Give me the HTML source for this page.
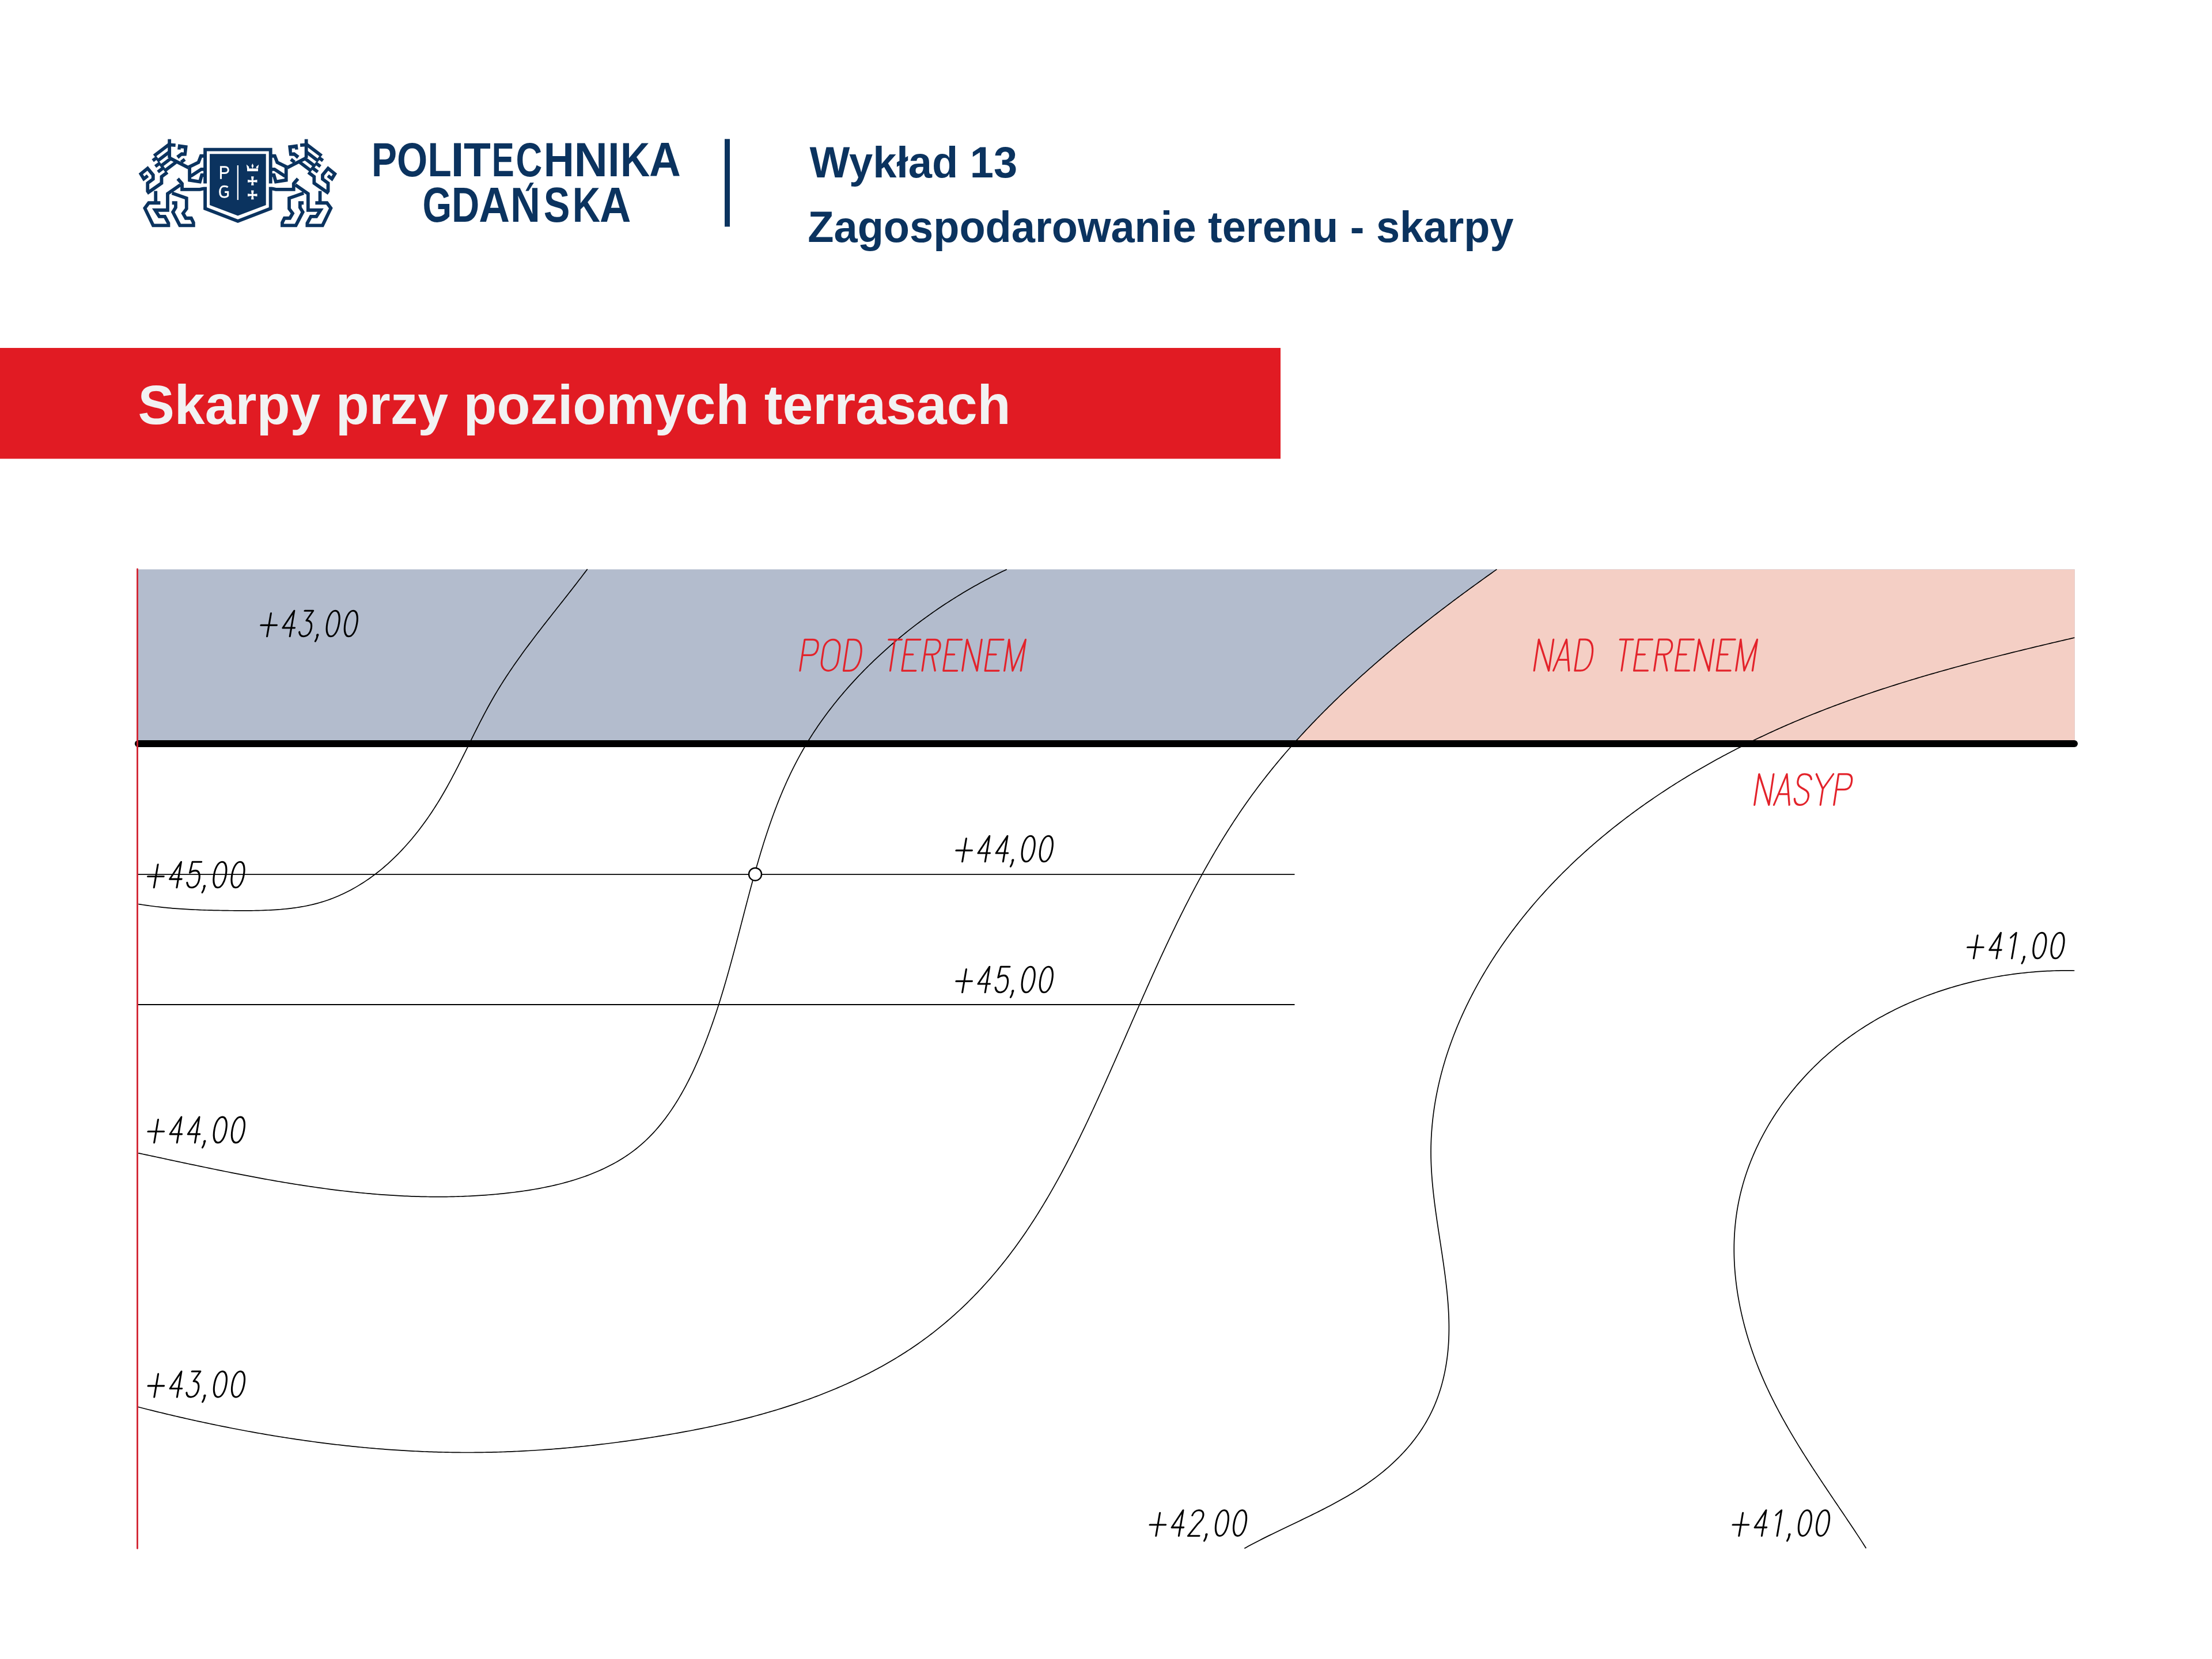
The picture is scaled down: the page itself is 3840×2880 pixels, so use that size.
<!DOCTYPE html><html><head><meta charset="utf-8"><style>html,body{margin:0;padding:0;background:#fff;}body{width:3840px;height:2880px;overflow:hidden;position:relative;}svg{position:absolute;left:0;top:0;}</style></head><body>
<svg width="3840" height="2880" viewBox="0 0 3840 2880" xmlns="http://www.w3.org/2000/svg">
<rect width="3840" height="2880" fill="#fff"/>
<g fill="none" stroke="#0b335f" stroke-width="5.8" stroke-linejoin="miter" stroke-miterlimit="3" stroke-linecap="butt"><polyline points="294.17,241.59 294.17,274.1"/><polyline points="294.17,251.43 304.68,252.21"/><polyline points="320.8,276.6 314.5,281.5"/><polyline points="294.17,274.1 327.15,291.18"/><polyline points="327.64,290.02 344.52,281.82 348.86,270.73 354.65,270.73"/><polyline points="329.08,290.5 329.08,312.69 346.93,315.58 350.31,304 354.65,304"/><polyline points="331.01,305.93 349.34,293.88 354.65,293.88"/><polyline points="256.55,305.07 249.7,310.47 244.49,301.88 256.26,292.24 265.81,303.91 265.81,310.85 256.26,317.89 256.26,331.78 257.7,333.91 280.47,317.99 280.47,306.8 290.6,299.18"/><polyline points="270.24,331.5 270.24,352.23"/><polyline points="278.44,352.23 258.19,352.23 251.43,361.4 265.9,391.3 292.43,391.3 292.43,387.44 286.16,375.87 276.51,375.87 269.28,364.77 290.98,364.77 290.98,336.32 313.17,320.88"/><polyline points="308.54,310.27 316.06,318.76 316.06,328.79 346.93,328.79 354.65,327.15"/><polyline points="298.7,335.35 323.78,344.04 323.78,362.36 317.8,370.37 322.62,378.76 331.98,378.76 335.84,386.48 335.84,391.3 312.2,391.3 300.15,368.15 304.97,360.24 304.97,352.23 298.7,352.23"/><g fill="none" stroke="#0b335f" stroke-width="5.8" stroke-linecap="butt"><path d="M267.5,270.51 L294,250.37"/><path d="M265.2,278.91 L273,272.98"/><path d="M273,279.73 L294,263.77"/><path d="M269.6,289.06 L278.3,282.45"/><path d="M278.3,288.95 L298,273.98"/><path d="M274.1,298.54 L285.2,290.11"/><path d="M285.2,297.01 L306,281.2"/></g><path d="M309.3,250.3 L325.8,252.5 L323.6,270.4 L315.4,270.8 L310.1,275.7 L306.1,270.4 L314.5,264.3 L319,264.6 L319,257.8 L313.7,257.6 L313.7,259.7 L308.1,259.4 Z" fill="#0b335f" stroke="none"/></g><g transform="translate(825.8,0) scale(-1,1)"><g fill="none" stroke="#0b335f" stroke-width="5.8" stroke-linejoin="miter" stroke-miterlimit="3" stroke-linecap="butt"><polyline points="294.17,241.59 294.17,274.1"/><polyline points="294.17,251.43 304.68,252.21"/><polyline points="320.8,276.6 314.5,281.5"/><polyline points="294.17,274.1 327.15,291.18"/><polyline points="327.64,290.02 344.52,281.82 348.86,270.73 354.65,270.73"/><polyline points="329.08,290.5 329.08,312.69 346.93,315.58 350.31,304 354.65,304"/><polyline points="331.01,305.93 349.34,293.88 354.65,293.88"/><polyline points="256.55,305.07 249.7,310.47 244.49,301.88 256.26,292.24 265.81,303.91 265.81,310.85 256.26,317.89 256.26,331.78 257.7,333.91 280.47,317.99 280.47,306.8 290.6,299.18"/><polyline points="270.24,331.5 270.24,352.23"/><polyline points="278.44,352.23 258.19,352.23 251.43,361.4 265.9,391.3 292.43,391.3 292.43,387.44 286.16,375.87 276.51,375.87 269.28,364.77 290.98,364.77 290.98,336.32 313.17,320.88"/><polyline points="308.54,310.27 316.06,318.76 316.06,328.79 346.93,328.79 354.65,327.15"/><polyline points="298.7,335.35 323.78,344.04 323.78,362.36 317.8,370.37 322.62,378.76 331.98,378.76 335.84,386.48 335.84,391.3 312.2,391.3 300.15,368.15 304.97,360.24 304.97,352.23 298.7,352.23"/><g fill="none" stroke="#0b335f" stroke-width="5.8" stroke-linecap="butt"><path d="M267.5,270.51 L294,250.37"/><path d="M265.2,278.91 L273,272.98"/><path d="M273,279.73 L294,263.77"/><path d="M269.6,289.06 L278.3,282.45"/><path d="M278.3,288.95 L298,273.98"/><path d="M274.1,298.54 L285.2,290.11"/><path d="M285.2,297.01 L306,281.2"/></g><path d="M309.3,250.3 L325.8,252.5 L323.6,270.4 L315.4,270.8 L310.1,275.7 L306.1,270.4 L314.5,264.3 L319,264.6 L319,257.8 L313.7,257.6 L313.7,259.7 L308.1,259.4 Z" fill="#0b335f" stroke="none"/></g></g><path d="M356.1,259.6 H469.7 V362 L412.9,383.9 L356.1,362 Z" fill="none" stroke="#0b335f" stroke-width="5.9" stroke-linejoin="miter"/><path d="M364.1,267.2 H461.7 V355.9 L412.9,374.4 L364.1,355.9 Z" fill="#0b335f"/><rect x="352" y="318.5" width="7.5" height="6" fill="#fff"/><rect x="466.3" y="318.5" width="7.5" height="6" fill="#fff"/><path d="M383.5,310.8 V289.7 H390.5 C394.5,289.7 396.3,292.5 396.3,295.1 C396.3,297.8 394.5,300.5 390.5,300.5 H383.5" fill="none" stroke="#fff" stroke-width="3.1"/><path d="M395.5,325.2 C394,323.7 391.8,323.3 389.2,323.3 C384.3,323.3 381.7,327.5 381.7,333 C381.7,338.8 384.3,342.3 389.2,342.3 C392,342.3 394.3,341.5 395.7,339.8 V333.4 H390.2" fill="none" stroke="#fff" stroke-width="3.1"/><rect x="411.7" y="287" width="2.3" height="60.1" fill="#fff"/><path d="M429,293 L427.8,285.6 L432.2,289.5 L432.4,293 Z M448,293 L449.2,285.8 L444.8,289.5 L444.6,293 Z M438.4,283.8 L440.3,288 L438.4,292.8 L436.5,288 Z M429,292.6 H448 V297.3 H429 Z" fill="#fff"/><path d="M436,306.2 L440.6,306.2 L439.8,312.9 L446.5,312.1 L446.5,316.7 L439.8,315.9 L440.6,321.8 L436,321.8 L436.8,315.9 L430,316.7 L430,312.1 L436.8,312.9 Z" fill="#fff"/><path d="M436,330.4 L440.6,330.4 L439.8,337.1 L446.5,336.3 L446.5,340.9 L439.8,340.1 L440.6,346.2 L436,346.2 L436.8,340.1 L430,340.9 L430,336.3 L436.8,337.1 Z" fill="#fff"/>
<text transform="translate(645.09,305.6) scale(0.79,1)" font-family="Liberation Sans" font-weight="bold" font-size="83.43" fill="#0b335f">P</text><text transform="translate(689.1,305.6) scale(0.82,1)" font-family="Liberation Sans" font-weight="bold" font-size="83.43" fill="#0b335f">O</text><text transform="translate(742.46,305.6) scale(0.81,1)" font-family="Liberation Sans" font-weight="bold" font-size="83.43" fill="#0b335f">L</text><text transform="translate(782.53,305.6) scale(1,1)" font-family="Liberation Sans" font-weight="bold" font-size="83.43" fill="#0b335f">I</text><text transform="translate(804.94,305.6) scale(0.92,1)" font-family="Liberation Sans" font-weight="bold" font-size="83.43" fill="#0b335f">T</text><text transform="translate(853.78,305.6) scale(0.7,1)" font-family="Liberation Sans" font-weight="bold" font-size="83.43" fill="#0b335f">E</text><text transform="translate(895.6,305.6) scale(0.76,1)" font-family="Liberation Sans" font-weight="bold" font-size="83.43" fill="#0b335f">C</text><text transform="translate(943.76,305.6) scale(0.88,1)" font-family="Liberation Sans" font-weight="bold" font-size="83.43" fill="#0b335f">H</text><text transform="translate(996.47,305.6) scale(0.97,1)" font-family="Liberation Sans" font-weight="bold" font-size="83.43" fill="#0b335f">N</text><text transform="translate(1055.22,305.6) scale(0.87,1)" font-family="Liberation Sans" font-weight="bold" font-size="83.43" fill="#0b335f">I</text><text transform="translate(1077.08,305.6) scale(0.85,1)" font-family="Liberation Sans" font-weight="bold" font-size="83.43" fill="#0b335f">K</text><text transform="translate(1126.9,305.6) scale(0.91,1)" font-family="Liberation Sans" font-weight="bold" font-size="83.43" fill="#0b335f">A</text>
<text transform="translate(733.54,385.4) scale(0.77,1)" font-family="Liberation Sans" font-weight="bold" font-size="84.59" fill="#0b335f">G</text><text transform="translate(784.11,385.4) scale(0.79,1)" font-family="Liberation Sans" font-weight="bold" font-size="84.59" fill="#0b335f">D</text><text transform="translate(831.35,385.4) scale(0.88,1)" font-family="Liberation Sans" font-weight="bold" font-size="84.59" fill="#0b335f">A</text><text transform="translate(886.01,385.4) scale(0.85,1)" font-family="Liberation Sans" font-weight="bold" font-size="84.59" fill="#0b335f">N</text><text transform="translate(943.82,385.4) scale(0.81,1)" font-family="Liberation Sans" font-weight="bold" font-size="84.59" fill="#0b335f">S</text><text transform="translate(993.65,385.4) scale(0.79,1)" font-family="Liberation Sans" font-weight="bold" font-size="84.59" fill="#0b335f">K</text><text transform="translate(1040.92,385.4) scale(0.89,1)" font-family="Liberation Sans" font-weight="bold" font-size="84.59" fill="#0b335f">A</text>
<path d="M912.3,331.5 L917.6,331.5 L926.9,316.9 L920.2,316.9 Z" fill="#0b335f"/>
<rect x="1258" y="241.3" width="9" height="152.2" fill="#0b335f"/>
<text x="0" y="0" transform="translate(1405.5,307.5) scale(1,1.02)" font-family="Liberation Sans" font-weight="bold" font-size="74" fill="#0b335f">Wykład 13</text>
<text x="0" y="0" transform="translate(1402.3,419.5) scale(1,1.02)" font-family="Liberation Sans" font-weight="bold" font-size="74" fill="#0b335f">Zagospodarowanie terenu - skarpy</text>
<rect x="0" y="604" width="2223" height="192.4" fill="#e11b23"/>
<text x="0" y="0" transform="translate(239.5,736.2) scale(1,1.02)" font-family="Liberation Sans" font-weight="bold" font-size="95" fill="#f2f2f2">Skarpy przy poziomych terrasach</text>
<rect x="238.5" y="988.4" width="3363.2" height="302.6" fill="#b3bccd"/>
<path d="M2598.38,988.4 L2595.19,990.66 L2592,992.92 L2588.8,995.2 L2585.61,997.47 L2582.41,999.75 L2579.21,1002.04 L2576.01,1004.34 L2572.82,1006.64 L2569.62,1008.94 L2566.42,1011.25 L2563.22,1013.57 L2560.02,1015.89 L2556.82,1018.22 L2553.62,1020.55 L2550.42,1022.89 L2547.22,1025.23 L2544.02,1027.58 L2540.83,1029.94 L2537.63,1032.3 L2534.43,1034.66 L2531.24,1037.04 L2528.04,1039.42 L2524.85,1041.8 L2521.65,1044.19 L2518.46,1046.59 L2515.27,1048.99 L2512.08,1051.4 L2508.89,1053.81 L2505.71,1056.23 L2502.52,1058.65 L2499.34,1061.09 L2496.16,1063.52 L2492.98,1065.97 L2489.8,1068.42 L2486.63,1070.87 L2483.46,1073.33 L2480.29,1075.8 L2477.12,1078.27 L2473.95,1080.75 L2470.79,1083.24 L2467.63,1085.73 L2464.47,1088.23 L2461.32,1090.73 L2458.17,1093.24 L2455.02,1095.76 L2451.87,1098.28 L2448.73,1100.81 L2445.59,1103.34 L2442.46,1105.88 L2439.33,1108.43 L2436.2,1110.98 L2433.08,1113.54 L2429.96,1116.11 L2426.84,1118.68 L2423.73,1121.26 L2420.62,1123.84 L2417.52,1126.44 L2414.42,1129.03 L2411.33,1131.64 L2408.24,1134.25 L2405.15,1136.87 L2402.07,1139.49 L2399,1142.12 L2395.93,1144.75 L2392.86,1147.4 L2389.8,1150.05 L2386.75,1152.7 L2383.7,1155.37 L2380.65,1158.03 L2377.62,1160.71 L2374.58,1163.39 L2371.56,1166.08 L2368.54,1168.78 L2365.52,1171.48 L2362.51,1174.19 L2359.51,1176.9 L2356.51,1179.62 L2353.52,1182.35 L2350.54,1185.09 L2347.56,1187.83 L2344.59,1190.58 L2341.62,1193.33 L2338.67,1196.1 L2335.72,1198.87 L2332.77,1201.64 L2329.84,1204.42 L2326.91,1207.21 L2323.99,1210.01 L2321.07,1212.81 L2318.17,1215.63 L2315.27,1218.44 L2312.38,1221.27 L2309.49,1224.1 L2306.62,1226.94 L2303.75,1229.78 L2300.89,1232.63 L2298.04,1235.49 L2295.19,1238.36 L2292.36,1241.23 L2289.53,1244.11 L2286.71,1247 L2283.91,1249.9 L2281.11,1252.8 L2278.31,1255.71 L2275.53,1258.62 L2272.76,1261.55 L2269.99,1264.48 L2267.24,1267.41 L2264.49,1270.36 L2261.76,1273.31 L2259.03,1276.27 L2256.31,1279.24 L2253.61,1282.21 L2250.91,1285.19 L2248.22,1288.18 L2245.54,1291.18 L3601.7,1292 V988.4 Z" fill="#f4cfc5"/>
<g stroke="#000" stroke-width="1.8" fill="none">
<path d="M239,1517.9 H2247.5 M239,1744 H2247.5"/>
</g>
<g stroke="#000" stroke-width="1.7" fill="none">
<path d="M1019.69,987.99 L1017.29,991.19 1014.88,994.38 1012.47,997.56 1010.05,1000.75 1007.62,1003.93 1005.18,1007.1 1002.73,1010.28 1000.28,1013.45 997.82,1016.62 995.36,1019.79 992.89,1022.96 990.42,1026.12 987.94,1029.29 985.46,1032.45 982.97,1035.61 980.49,1038.78 978,1041.94 975.5,1045.1 973.01,1048.26 970.51,1051.43 968.02,1054.59 965.52,1057.76 963.02,1060.92 960.53,1064.09 958.03,1067.26 955.54,1070.43 953.05,1073.6 950.56,1076.78 948.07,1079.95 945.58,1083.14 943.1,1086.32 940.63,1089.51 938.16,1092.7 935.69,1095.89 933.23,1099.09 930.77,1102.29 928.32,1105.5 925.88,1108.71 923.45,1111.93 921.02,1115.16 918.6,1118.38 916.19,1121.62 913.79,1124.86 911.39,1128.1 909.01,1131.36 906.64,1134.62 904.27,1137.88 901.92,1141.15 899.58,1144.44 897.26,1147.72 894.94,1151.02 892.64,1154.32 890.35,1157.64 888.08,1160.96 885.82,1164.29 883.57,1167.63 881.34,1170.98 879.12,1174.33 876.92,1177.7 874.74,1181.08 872.58,1184.47 870.43,1187.87 868.3,1191.28 866.19,1194.7 864.09,1198.13 862.02,1201.57 859.96,1205.02 857.93,1208.49 855.91,1211.97 853.92,1215.46 851.94,1218.96 849.98,1222.47 848.03,1225.99 846.11,1229.52 844.19,1233.06 842.3,1236.61 840.41,1240.17 838.54,1243.73 836.68,1247.3 834.82,1250.88 832.98,1254.47 831.15,1258.05 829.33,1261.65 827.51,1265.25 825.7,1268.85 823.89,1272.46 822.09,1276.07 820.3,1279.68 818.51,1283.3 816.71,1286.92 814.92,1290.54 813.13,1294.16 811.35,1297.78 809.55,1301.39 807.76,1305.01 805.96,1308.63 804.16,1312.25 802.36,1315.86 800.55,1319.47 798.73,1323.08 796.91,1326.69 795.08,1330.29 793.24,1333.89 791.39,1337.48 789.53,1341.07 787.65,1344.65 785.77,1348.22 783.87,1351.79 781.96,1355.35 780.03,1358.9 778.09,1362.44 776.13,1365.98 774.15,1369.5 772.16,1373.02 770.14,1376.53 768.11,1380.02 766.05,1383.5 763.98,1386.98 761.88,1390.44 759.75,1393.88 757.61,1397.32 755.44,1400.74 753.25,1404.14 751.03,1407.53 748.79,1410.91 746.53,1414.26 744.24,1417.61 741.94,1420.93 739.6,1424.23 737.25,1427.52 734.87,1430.79 732.46,1434.04 730.04,1437.27 727.58,1440.47 725.11,1443.66 722.61,1446.82 720.09,1449.96 717.54,1453.08 714.97,1456.17 712.37,1459.24 709.76,1462.28 707.11,1465.29 704.45,1468.29 701.75,1471.25 699.04,1474.18 696.3,1477.09 693.53,1479.97 690.75,1482.82 687.93,1485.64 685.09,1488.43 682.23,1491.19 679.34,1493.91 676.43,1496.61 673.5,1499.27 670.54,1501.9 667.55,1504.49 664.54,1507.05 661.5,1509.57 658.44,1512.06 655.36,1514.51 652.25,1516.92 649.11,1519.3 645.95,1521.64 642.76,1523.94 639.55,1526.2 636.32,1528.41 633.06,1530.59 629.77,1532.73 626.46,1534.83 623.12,1536.88 619.75,1538.89 616.37,1540.86 612.95,1542.78 609.51,1544.66 606.05,1546.49 602.55,1548.27 599.04,1550.01 595.49,1551.71 591.93,1553.35 588.33,1554.95 584.71,1556.49 581.06,1557.99 577.39,1559.44 573.69,1560.84 569.97,1562.18 566.22,1563.48 562.44,1564.72 558.64,1565.9 554.81,1567.04 550.95,1568.12 547.07,1569.14 543.16,1570.11 539.22,1571.03 535.27,1571.89 531.29,1572.71 527.28,1573.47 523.26,1574.19 519.22,1574.86 515.16,1575.48 511.09,1576.06 507,1576.6 502.89,1577.1 498.77,1577.56 494.64,1577.99 490.5,1578.37 486.35,1578.73 482.19,1579.05 478.02,1579.33 473.85,1579.59 469.67,1579.82 465.49,1580.02 461.3,1580.2 457.12,1580.35 452.93,1580.48 448.74,1580.58 444.56,1580.67 440.38,1580.74 436.21,1580.79 432.04,1580.83 427.87,1580.85 423.72,1580.86 419.57,1580.86 415.44,1580.84 411.32,1580.82 407.21,1580.8 403.11,1580.76 399.03,1580.73 394.96,1580.69 390.9,1580.64 386.86,1580.58 382.83,1580.52 378.81,1580.45 374.8,1580.38 370.8,1580.29 366.81,1580.2 362.83,1580.1 358.85,1579.99 354.89,1579.86 350.93,1579.73 346.98,1579.59 343.03,1579.43 339.08,1579.26 335.15,1579.08 331.21,1578.88 327.28,1578.67 323.35,1578.45 319.42,1578.21 315.49,1577.96 311.56,1577.69 307.64,1577.4 303.71,1577.1 299.78,1576.78 295.84,1576.44 291.91,1576.08 287.97,1575.7 284.03,1575.31 280.08,1574.89 276.13,1574.45 272.17,1573.99 268.2,1573.51 264.23,1573.01 260.25,1572.49 256.26,1571.94 252.26,1571.37 248.25,1570.77 244.23,1570.15 240.2,1569.51"/>
<path d="M1747.68,988.51 L1744.2,990.17 1740.72,991.85 1737.24,993.54 1733.75,995.26 1730.27,997 1726.8,998.75 1723.32,1000.53 1719.85,1002.32 1716.37,1004.13 1712.9,1005.96 1709.44,1007.81 1705.97,1009.68 1702.51,1011.56 1699.05,1013.47 1695.6,1015.39 1692.15,1017.33 1688.7,1019.29 1685.25,1021.27 1681.81,1023.26 1678.38,1025.28 1674.95,1027.31 1671.52,1029.35 1668.1,1031.42 1664.69,1033.51 1661.28,1035.61 1657.87,1037.73 1654.48,1039.86 1651.08,1042.02 1647.7,1044.19 1644.32,1046.38 1640.94,1048.58 1637.58,1050.8 1634.22,1053.04 1630.87,1055.3 1627.52,1057.57 1624.19,1059.86 1620.86,1062.17 1617.54,1064.5 1614.23,1066.84 1610.92,1069.19 1607.63,1071.57 1604.34,1073.95 1601.06,1076.36 1597.8,1078.78 1594.54,1081.22 1591.29,1083.67 1588.05,1086.14 1584.82,1088.63 1581.6,1091.13 1578.4,1093.65 1575.2,1096.18 1572.01,1098.73 1568.84,1101.3 1565.67,1103.88 1562.52,1106.47 1559.38,1109.08 1556.25,1111.71 1553.14,1114.35 1550.04,1117.01 1546.94,1119.68 1543.87,1122.36 1540.8,1125.06 1537.75,1127.78 1534.71,1130.51 1531.69,1133.26 1528.67,1136.02 1525.68,1138.79 1522.69,1141.58 1519.73,1144.38 1516.77,1147.2 1513.83,1150.03 1510.91,1152.88 1508,1155.74 1505.11,1158.61 1502.23,1161.5 1499.37,1164.4 1496.52,1167.32 1493.69,1170.25 1490.88,1173.19 1488.08,1176.15 1485.3,1179.12 1482.54,1182.1 1479.8,1185.1 1477.07,1188.11 1474.36,1191.13 1471.67,1194.17 1468.99,1197.22 1466.34,1200.28 1463.7,1203.36 1461.08,1206.45 1458.48,1209.55 1455.9,1212.66 1453.34,1215.79 1450.8,1218.93 1448.28,1222.08 1445.78,1225.24 1443.3,1228.42 1440.83,1231.61 1438.39,1234.81 1435.97,1238.02 1433.57,1241.25 1431.2,1244.49 1428.84,1247.73 1426.51,1251 1424.19,1254.27 1421.9,1257.55 1419.63,1260.85 1417.39,1264.16 1415.16,1267.48 1412.96,1270.81 1410.78,1274.15 1408.63,1277.5 1406.5,1280.86 1404.39,1284.24 1402.31,1287.63 1400.25,1291.02 1398.21,1294.43 1396.2,1297.85 1394.21,1301.28 1392.25,1304.72 1390.31,1308.17 1388.4,1311.63 1386.51,1315.1 1384.64,1318.59 1382.79,1322.08 1380.97,1325.58 1379.17,1329.09 1377.39,1332.61 1375.63,1336.14 1373.9,1339.68 1372.18,1343.23 1370.49,1346.79 1368.82,1350.36 1367.16,1353.94 1365.53,1357.52 1363.91,1361.12 1362.32,1364.72 1360.74,1368.33 1359.18,1371.95 1357.64,1375.58 1356.12,1379.22 1354.62,1382.86 1353.13,1386.52 1351.66,1390.18 1350.21,1393.85 1348.77,1397.52 1347.35,1401.21 1345.94,1404.9 1344.55,1408.59 1343.18,1412.3 1341.82,1416.01 1340.47,1419.73 1339.14,1423.46 1337.82,1427.19 1336.51,1430.93 1335.22,1434.68 1333.95,1438.43 1332.68,1442.19 1331.43,1445.95 1330.18,1449.72 1328.96,1453.5 1327.74,1457.28 1326.53,1461.07 1325.33,1464.86 1324.15,1468.66 1322.97,1472.46 1321.8,1476.27 1320.65,1480.08 1319.5,1483.9 1318.36,1487.73 1317.23,1491.55 1316.11,1495.39 1315,1499.22 1313.89,1503.07 1312.79,1506.91 1311.7,1510.76 1310.62,1514.62 1309.54,1518.48 1308.46,1522.34 1307.4,1526.2 1306.34,1530.07 1305.28,1533.94 1304.23,1537.82 1303.18,1541.7 1302.14,1545.58 1301.1,1549.46 1300.07,1553.35 1299.04,1557.24 1298.01,1561.14 1296.98,1565.03 1295.96,1568.93 1294.94,1572.83 1293.92,1576.73 1292.9,1580.64 1291.88,1584.54 1290.87,1588.45 1289.85,1592.36 1288.84,1596.27 1287.82,1600.18 1286.81,1604.1 1285.79,1608.01 1284.77,1611.93 1283.75,1615.85 1282.73,1619.76 1281.71,1623.68 1280.69,1627.6 1279.66,1631.52 1278.63,1635.44 1277.6,1639.36 1276.56,1643.28 1275.52,1647.21 1274.48,1651.13 1273.43,1655.05 1272.37,1658.97 1271.32,1662.89 1270.25,1666.81 1269.18,1670.73 1268.11,1674.64 1267.02,1678.56 1265.94,1682.48 1264.84,1686.39 1263.74,1690.3 1262.63,1694.22 1261.51,1698.13 1260.39,1702.04 1259.25,1705.94 1258.11,1709.85 1256.96,1713.75 1255.79,1717.66 1254.62,1721.56 1253.44,1725.45 1252.25,1729.35 1251.05,1733.24 1249.84,1737.13 1248.61,1741.02 1247.38,1744.9 1246.13,1748.78 1244.87,1752.66 1243.6,1756.53 1242.31,1760.41 1241.01,1764.27 1239.7,1768.14 1238.38,1772 1237.04,1775.86 1235.69,1779.71 1234.32,1783.56 1232.94,1787.4 1231.54,1791.24 1230.12,1795.08 1228.69,1798.91 1227.25,1802.74 1225.79,1806.56 1224.31,1810.38 1222.81,1814.19 1221.3,1818 1219.77,1821.8 1218.22,1825.6 1216.65,1829.38 1215.06,1833.16 1213.46,1836.94 1211.83,1840.7 1210.19,1844.45 1208.52,1848.19 1206.84,1851.92 1205.13,1855.64 1203.4,1859.34 1201.65,1863.03 1199.88,1866.7 1198.08,1870.36 1196.26,1874 1194.42,1877.63 1192.56,1881.23 1190.67,1884.82 1188.76,1888.39 1186.82,1891.93 1184.86,1895.46 1182.87,1898.96 1180.86,1902.44 1178.82,1905.9 1176.76,1909.33 1174.66,1912.74 1172.54,1916.12 1170.4,1919.48 1168.22,1922.81 1166.02,1926.1 1163.79,1929.37 1161.53,1932.62 1159.24,1935.82 1156.92,1939 1154.57,1942.15 1152.19,1945.26 1149.78,1948.34 1147.34,1951.39 1144.87,1954.39 1142.36,1957.37 1139.82,1960.3 1137.25,1963.2 1134.65,1966.06 1132.01,1968.88 1129.35,1971.66 1126.64,1974.4 1123.9,1977.1 1121.13,1979.76 1118.32,1982.37 1115.48,1984.94 1112.6,1987.46 1109.69,1989.94 1106.73,1992.37 1103.75,1994.76 1100.72,1997.1 1097.67,1999.4 1094.58,2001.65 1091.45,2003.86 1088.29,2006.02 1085.1,2008.14 1081.88,2010.22 1078.62,2012.26 1075.34,2014.25 1072.03,2016.2 1068.68,2018.12 1065.31,2019.99 1061.91,2021.82 1058.48,2023.61 1055.02,2025.36 1051.54,2027.08 1048.03,2028.76 1044.49,2030.39 1040.93,2032 1037.35,2033.56 1033.74,2035.09 1030.11,2036.58 1026.46,2038.04 1022.78,2039.46 1019.09,2040.85 1015.37,2042.2 1011.63,2043.52 1007.87,2044.81 1004.1,2046.06 1000.3,2047.28 996.49,2048.47 992.66,2049.63 988.81,2050.76 984.95,2051.86 981.07,2052.92 977.18,2053.96 973.27,2054.97 969.35,2055.95 965.41,2056.9 961.47,2057.82 957.51,2058.72 953.53,2059.59 949.55,2060.43 945.56,2061.25 941.56,2062.04 937.55,2062.81 933.53,2063.55 929.5,2064.27 925.46,2064.97 921.42,2065.64 917.37,2066.29 913.32,2066.91 909.26,2067.52 905.19,2068.1 901.13,2068.66 897.05,2069.21 892.98,2069.73 888.9,2070.23 884.83,2070.71 880.75,2071.18 876.67,2071.62 872.59,2072.05 868.51,2072.46 864.43,2072.86 860.36,2073.23 856.28,2073.6 852.21,2073.94 848.14,2074.27 844.07,2074.58 840.01,2074.88 835.94,2075.16 831.88,2075.43 827.82,2075.68 823.76,2075.91 819.7,2076.13 815.64,2076.33 811.59,2076.52 807.53,2076.69 803.48,2076.85 799.43,2077 795.38,2077.13 791.34,2077.24 787.29,2077.34 783.25,2077.43 779.2,2077.5 775.16,2077.55 771.12,2077.6 767.09,2077.63 763.05,2077.64 759.02,2077.64 754.98,2077.63 750.95,2077.61 746.92,2077.57 742.89,2077.51 738.87,2077.45 734.84,2077.37 730.82,2077.28 726.8,2077.18 722.77,2077.06 718.75,2076.93 714.74,2076.79 710.72,2076.63 706.7,2076.47 702.69,2076.29 698.68,2076.1 694.67,2075.89 690.66,2075.68 686.65,2075.45 682.64,2075.22 678.63,2074.97 674.63,2074.71 670.63,2074.43 666.62,2074.15 662.62,2073.86 658.62,2073.55 654.63,2073.24 650.63,2072.91 646.63,2072.57 642.64,2072.22 638.65,2071.87 634.66,2071.5 630.67,2071.12 626.68,2070.73 622.69,2070.33 618.7,2069.92 614.72,2069.51 610.73,2069.08 606.75,2068.64 602.77,2068.19 598.79,2067.74 594.81,2067.27 590.83,2066.8 586.85,2066.32 582.87,2065.82 578.9,2065.32 574.92,2064.81 570.95,2064.3 566.98,2063.77 563.01,2063.24 559.04,2062.69 555.07,2062.14 551.1,2061.58 547.14,2061.02 543.17,2060.44 539.21,2059.86 535.24,2059.27 531.28,2058.68 527.32,2058.07 523.36,2057.46 519.4,2056.84 515.44,2056.22 511.48,2055.59 507.53,2054.95 503.57,2054.3 499.61,2053.65 495.66,2052.99 491.71,2052.33 487.76,2051.66 483.8,2050.98 479.85,2050.3 475.9,2049.61 471.96,2048.92 468.01,2048.22 464.06,2047.51 460.12,2046.8 456.17,2046.08 452.23,2045.36 448.28,2044.64 444.34,2043.91 440.4,2043.17 436.46,2042.43 432.52,2041.68 428.58,2040.93 424.64,2040.18 420.7,2039.42 416.76,2038.66 412.83,2037.89 408.89,2037.12 404.96,2036.35 401.02,2035.57 397.09,2034.79 393.15,2034 389.22,2033.21 385.29,2032.42 381.36,2031.62 377.43,2030.83 373.5,2030.02 369.57,2029.22 365.64,2028.41 361.71,2027.6 357.79,2026.79 353.86,2025.98 349.93,2025.16 346.01,2024.34 342.08,2023.52 338.16,2022.7 334.23,2021.87 330.31,2021.05 326.39,2020.22 322.46,2019.39 318.54,2018.56 314.62,2017.73 310.7,2016.89 306.78,2016.06 302.86,2015.22 298.94,2014.39 295.02,2013.55 291.1,2012.71 287.19,2011.87 283.27,2011.03 279.35,2010.2 275.43,2009.36 271.52,2008.52 267.6,2007.68 263.69,2006.84 259.77,2006 255.86,2005.16 251.94,2004.32 248.03,2003.49 244.11,2002.65 240.2,2001.81"/>
<path d="M2598.38,988.4 L2595.19,990.66 2592,992.92 2588.8,995.2 2585.61,997.47 2582.41,999.75 2579.21,1002.04 2576.01,1004.34 2572.82,1006.64 2569.62,1008.94 2566.42,1011.25 2563.22,1013.57 2560.02,1015.89 2556.82,1018.22 2553.62,1020.55 2550.42,1022.89 2547.22,1025.23 2544.02,1027.58 2540.83,1029.94 2537.63,1032.3 2534.43,1034.66 2531.24,1037.04 2528.04,1039.42 2524.85,1041.8 2521.65,1044.19 2518.46,1046.59 2515.27,1048.99 2512.08,1051.4 2508.89,1053.81 2505.71,1056.23 2502.52,1058.65 2499.34,1061.09 2496.16,1063.52 2492.98,1065.97 2489.8,1068.42 2486.63,1070.87 2483.46,1073.33 2480.29,1075.8 2477.12,1078.27 2473.95,1080.75 2470.79,1083.24 2467.63,1085.73 2464.47,1088.23 2461.32,1090.73 2458.17,1093.24 2455.02,1095.76 2451.87,1098.28 2448.73,1100.81 2445.59,1103.34 2442.46,1105.88 2439.33,1108.43 2436.2,1110.98 2433.08,1113.54 2429.96,1116.11 2426.84,1118.68 2423.73,1121.26 2420.62,1123.84 2417.52,1126.44 2414.42,1129.03 2411.33,1131.64 2408.24,1134.25 2405.15,1136.87 2402.07,1139.49 2399,1142.12 2395.93,1144.75 2392.86,1147.4 2389.8,1150.05 2386.75,1152.7 2383.7,1155.37 2380.65,1158.03 2377.62,1160.71 2374.58,1163.39 2371.56,1166.08 2368.54,1168.78 2365.52,1171.48 2362.51,1174.19 2359.51,1176.9 2356.51,1179.62 2353.52,1182.35 2350.54,1185.09 2347.56,1187.83 2344.59,1190.58 2341.62,1193.33 2338.67,1196.1 2335.72,1198.87 2332.77,1201.64 2329.84,1204.42 2326.91,1207.21 2323.99,1210.01 2321.07,1212.81 2318.17,1215.63 2315.27,1218.44 2312.38,1221.27 2309.49,1224.1 2306.62,1226.94 2303.75,1229.78 2300.89,1232.63 2298.04,1235.49 2295.19,1238.36 2292.36,1241.23 2289.53,1244.11 2286.71,1247 2283.91,1249.9 2281.11,1252.8 2278.31,1255.71 2275.53,1258.62 2272.76,1261.55 2269.99,1264.48 2267.24,1267.41 2264.49,1270.36 2261.76,1273.31 2259.03,1276.27 2256.31,1279.24 2253.61,1282.21 2250.91,1285.19 2248.22,1288.18 2245.54,1291.18 2242.88,1294.18 2240.22,1297.19 2237.57,1300.21 2234.94,1303.23 2232.31,1306.27 2229.7,1309.31 2227.09,1312.35 2224.5,1315.41 2221.92,1318.47 2219.35,1321.54 2216.79,1324.62 2214.24,1327.7 2211.7,1330.8 2209.17,1333.9 2206.66,1337.01 2204.15,1340.12 2201.66,1343.24 2199.18,1346.37 2196.71,1349.51 2194.26,1352.66 2191.82,1355.81 2189.38,1358.97 2186.96,1362.14 2184.56,1365.32 2182.16,1368.51 2179.78,1371.7 2177.41,1374.9 2175.06,1378.11 2172.71,1381.32 2170.38,1384.55 2168.06,1387.78 2165.76,1391.02 2163.46,1394.26 2161.18,1397.52 2158.91,1400.78 2156.65,1404.05 2154.41,1407.32 2152.17,1410.6 2149.95,1413.89 2147.74,1417.19 2145.54,1420.5 2143.35,1423.81 2141.18,1427.13 2139.01,1430.45 2136.86,1433.78 2134.71,1437.12 2132.58,1440.47 2130.46,1443.82 2128.35,1447.18 2126.25,1450.54 2124.15,1453.91 2122.07,1457.29 2120,1460.67 2117.94,1464.06 2115.89,1467.46 2113.85,1470.86 2111.82,1474.27 2109.8,1477.69 2107.78,1481.11 2105.78,1484.53 2103.79,1487.96 2101.8,1491.4 2099.82,1494.85 2097.86,1498.3 2095.9,1501.75 2093.95,1505.21 2092.01,1508.68 2090.08,1512.15 2088.15,1515.62 2086.23,1519.1 2084.33,1522.59 2082.43,1526.08 2080.53,1529.58 2078.65,1533.08 2076.77,1536.59 2074.9,1540.1 2073.04,1543.62 2071.19,1547.14 2069.34,1550.67 2067.5,1554.2 2065.66,1557.73 2063.84,1561.27 2062.02,1564.82 2060.2,1568.36 2058.4,1571.92 2056.6,1575.47 2054.8,1579.04 2053.02,1582.6 2051.23,1586.17 2049.46,1589.75 2047.69,1593.32 2045.92,1596.91 2044.17,1600.49 2042.41,1604.08 2040.67,1607.67 2038.92,1611.27 2037.19,1614.87 2035.46,1618.47 2033.73,1622.08 2032.01,1625.69 2030.29,1629.31 2028.58,1632.92 2026.87,1636.54 2025.16,1640.17 2023.46,1643.79 2021.77,1647.42 2020.08,1651.06 2018.39,1654.69 2016.71,1658.33 2015.03,1661.97 2013.35,1665.62 2011.68,1669.26 2010.01,1672.91 2008.35,1676.56 2006.68,1680.22 2005.02,1683.88 2003.37,1687.53 2001.71,1691.2 2000.06,1694.86 1998.42,1698.53 1996.77,1702.19 1995.13,1705.86 1993.49,1709.54 1991.85,1713.21 1990.21,1716.89 1988.58,1720.56 1986.94,1724.24 1985.31,1727.92 1983.68,1731.61 1982.05,1735.29 1980.43,1738.98 1978.8,1742.66 1977.18,1746.35 1975.56,1750.04 1973.93,1753.73 1972.31,1757.43 1970.69,1761.12 1969.07,1764.82 1967.45,1768.51 1965.84,1772.21 1964.22,1775.91 1962.6,1779.6 1960.98,1783.3 1959.36,1787 1957.74,1790.7 1956.13,1794.4 1954.51,1798.11 1952.89,1801.81 1951.27,1805.51 1949.65,1809.21 1948.03,1812.92 1946.4,1816.62 1944.78,1820.32 1943.16,1824.03 1941.53,1827.73 1939.9,1831.43 1938.27,1835.14 1936.64,1838.84 1935.01,1842.54 1933.38,1846.25 1931.74,1849.95 1930.1,1853.65 1928.46,1857.35 1926.82,1861.05 1925.18,1864.75 1923.53,1868.45 1921.88,1872.15 1920.23,1875.85 1918.57,1879.55 1916.92,1883.24 1915.26,1886.94 1913.59,1890.63 1911.92,1894.33 1910.25,1898.02 1908.58,1901.71 1906.9,1905.4 1905.22,1909.09 1903.53,1912.77 1901.84,1916.45 1900.15,1920.14 1898.45,1923.81 1896.74,1927.49 1895.04,1931.16 1893.32,1934.84 1891.6,1938.5 1889.88,1942.17 1888.15,1945.83 1886.42,1949.49 1884.68,1953.15 1882.93,1956.8 1881.18,1960.45 1879.42,1964.1 1877.66,1967.74 1875.89,1971.37 1874.12,1975.01 1872.33,1978.64 1870.54,1982.26 1868.75,1985.88 1866.94,1989.5 1865.13,1993.11 1863.32,1996.72 1861.49,2000.32 1859.66,2003.92 1857.82,2007.51 1855.97,2011.1 1854.12,2014.68 1852.25,2018.25 1850.38,2021.82 1848.5,2025.39 1846.61,2028.95 1844.71,2032.5 1842.81,2036.05 1840.89,2039.58 1838.97,2043.12 1837.04,2046.64 1835.09,2050.16 1833.14,2053.68 1831.18,2057.18 1829.21,2060.68 1827.23,2064.17 1825.23,2067.66 1823.23,2071.14 1821.22,2074.61 1819.2,2078.07 1817.17,2081.52 1815.12,2084.97 1813.07,2088.41 1811,2091.84 1808.92,2095.26 1806.84,2098.67 1804.74,2102.07 1802.63,2105.47 1800.5,2108.86 1798.37,2112.23 1796.22,2115.6 1794.06,2118.96 1791.89,2122.31 1789.71,2125.65 1787.51,2128.98 1785.3,2132.3 1783.08,2135.62 1780.85,2138.92 1778.6,2142.21 1776.34,2145.49 1774.06,2148.76 1771.77,2152.02 1769.47,2155.27 1767.16,2158.51 1764.83,2161.74 1762.48,2164.95 1760.13,2168.16 1757.75,2171.35 1755.37,2174.54 1752.97,2177.71 1750.55,2180.87 1748.12,2184.02 1745.67,2187.15 1743.21,2190.28 1740.74,2193.39 1738.24,2196.49 1735.74,2199.58 1733.21,2202.65 1730.67,2205.71 1728.12,2208.76 1725.55,2211.8 1722.96,2214.82 1720.36,2217.83 1717.74,2220.83 1715.11,2223.81 1712.46,2226.78 1709.79,2229.74 1707.11,2232.68 1704.42,2235.6 1701.71,2238.52 1698.98,2241.41 1696.24,2244.3 1693.48,2247.16 1690.71,2250.02 1687.92,2252.86 1685.12,2255.68 1682.3,2258.49 1679.47,2261.28 1676.62,2264.05 1673.76,2266.81 1670.88,2269.56 1667.99,2272.29 1665.08,2275 1662.15,2277.69 1659.21,2280.37 1656.26,2283.03 1653.29,2285.67 1650.31,2288.3 1647.31,2290.91 1644.3,2293.5 1641.27,2296.08 1638.23,2298.63 1635.17,2301.17 1632.1,2303.69 1629.01,2306.19 1625.91,2308.67 1622.8,2311.14 1619.67,2313.59 1616.52,2316.01 1613.37,2318.42 1610.19,2320.81 1607,2323.18 1603.8,2325.53 1600.59,2327.86 1597.36,2330.17 1594.11,2332.46 1590.85,2334.73 1587.58,2336.98 1584.29,2339.22 1581,2341.43 1577.68,2343.62 1574.36,2345.8 1571.02,2347.96 1567.67,2350.09 1564.3,2352.21 1560.92,2354.31 1557.53,2356.4 1554.13,2358.46 1550.72,2360.5 1547.29,2362.53 1543.85,2364.54 1540.4,2366.53 1536.94,2368.5 1533.47,2370.46 1529.98,2372.39 1526.49,2374.31 1522.98,2376.22 1519.46,2378.1 1515.93,2379.97 1512.39,2381.82 1508.84,2383.65 1505.28,2385.46 1501.71,2387.26 1498.13,2389.04 1494.54,2390.81 1490.94,2392.55 1487.34,2394.28 1483.72,2396 1480.09,2397.7 1476.45,2399.38 1472.8,2401.04 1469.15,2402.69 1465.49,2404.32 1461.81,2405.94 1458.13,2407.54 1454.44,2409.12 1450.74,2410.69 1447.04,2412.25 1443.32,2413.78 1439.6,2415.31 1435.87,2416.81 1432.14,2418.31 1428.39,2419.78 1424.64,2421.24 1420.89,2422.69 1417.12,2424.12 1413.35,2425.54 1409.57,2426.94 1405.79,2428.33 1402,2429.7 1398.2,2431.06 1394.4,2432.4 1390.59,2433.73 1386.77,2435.05 1382.95,2436.35 1379.13,2437.64 1375.29,2438.91 1371.46,2440.17 1367.62,2441.42 1363.77,2442.65 1359.92,2443.87 1356.06,2445.07 1352.2,2446.26 1348.34,2447.44 1344.47,2448.61 1340.6,2449.76 1336.72,2450.9 1332.84,2452.03 1328.96,2453.14 1325.07,2454.25 1321.18,2455.33 1317.29,2456.41 1313.39,2457.47 1309.49,2458.53 1305.59,2459.57 1301.69,2460.59 1297.78,2461.61 1293.87,2462.61 1289.96,2463.6 1286.04,2464.58 1282.13,2465.55 1278.21,2466.51 1274.29,2467.46 1270.36,2468.39 1266.44,2469.31 1262.51,2470.23 1258.58,2471.13 1254.65,2472.02 1250.72,2472.9 1246.79,2473.77 1242.85,2474.63 1238.91,2475.49 1234.97,2476.33 1231.03,2477.16 1227.09,2477.98 1223.14,2478.79 1219.19,2479.59 1215.25,2480.38 1211.3,2481.17 1207.35,2481.94 1203.39,2482.71 1199.44,2483.46 1195.49,2484.21 1191.53,2484.95 1187.57,2485.68 1183.61,2486.41 1179.66,2487.12 1175.69,2487.83 1171.73,2488.53 1167.77,2489.22 1163.81,2489.9 1159.84,2490.58 1155.88,2491.25 1151.91,2491.91 1147.94,2492.56 1143.98,2493.21 1140.01,2493.85 1136.04,2494.49 1132.07,2495.11 1128.1,2495.73 1124.13,2496.35 1120.16,2496.96 1116.19,2497.56 1112.22,2498.15 1108.24,2498.74 1104.27,2499.32 1100.3,2499.9 1096.32,2500.46 1092.35,2501.02 1088.37,2501.58 1084.4,2502.12 1080.42,2502.66 1076.44,2503.2 1072.47,2503.72 1068.49,2504.24 1064.51,2504.76 1060.53,2505.26 1056.55,2505.76 1052.57,2506.25 1048.59,2506.73 1044.61,2507.21 1040.63,2507.68 1036.65,2508.14 1032.67,2508.6 1028.69,2509.04 1024.71,2509.48 1020.72,2509.92 1016.74,2510.34 1012.76,2510.76 1008.77,2511.17 1004.79,2511.58 1000.8,2511.97 996.82,2512.36 992.83,2512.74 988.85,2513.11 984.86,2513.48 980.87,2513.84 976.89,2514.19 972.9,2514.53 968.91,2514.86 964.92,2515.19 960.94,2515.51 956.95,2515.82 952.96,2516.12 948.97,2516.42 944.98,2516.7 940.99,2516.98 937,2517.25 933.01,2517.52 929.02,2517.77 925.03,2518.02 921.04,2518.26 917.05,2518.49 913.05,2518.71 909.06,2518.92 905.07,2519.13 901.08,2519.33 897.09,2519.52 893.09,2519.7 889.1,2519.87 885.11,2520.03 881.11,2520.19 877.12,2520.34 873.13,2520.48 869.13,2520.61 865.14,2520.73 861.15,2520.84 857.15,2520.94 853.16,2521.04 849.16,2521.13 845.17,2521.2 841.17,2521.27 837.18,2521.33 833.18,2521.39 829.19,2521.43 825.19,2521.46 821.19,2521.49 817.2,2521.5 813.2,2521.51 809.21,2521.51 805.21,2521.5 801.21,2521.48 797.22,2521.45 793.22,2521.41 789.23,2521.37 785.23,2521.31 781.23,2521.25 777.24,2521.17 773.24,2521.09 769.25,2521 765.25,2520.91 761.25,2520.8 757.26,2520.68 753.26,2520.56 749.27,2520.43 745.27,2520.28 741.27,2520.14 737.28,2519.98 733.28,2519.81 729.29,2519.64 725.29,2519.45 721.3,2519.26 717.3,2519.06 713.31,2518.85 709.31,2518.64 705.32,2518.41 701.33,2518.18 697.33,2517.94 693.34,2517.69 689.35,2517.43 685.35,2517.17 681.36,2516.89 677.37,2516.61 673.38,2516.32 669.39,2516.03 665.39,2515.72 661.4,2515.41 657.41,2515.09 653.42,2514.76 649.43,2514.42 645.44,2514.08 641.46,2513.73 637.47,2513.37 633.48,2513 629.49,2512.62 625.51,2512.24 621.52,2511.85 617.53,2511.45 613.55,2511.05 609.56,2510.64 605.58,2510.21 601.59,2509.79 597.61,2509.35 593.63,2508.91 589.65,2508.46 585.66,2508 581.68,2507.54 577.7,2507.06 573.72,2506.58 569.74,2506.1 565.76,2505.6 561.79,2505.1 557.81,2504.59 553.83,2504.08 549.86,2503.56 545.88,2503.03 541.91,2502.49 537.93,2501.95 533.96,2501.4 529.99,2500.84 526.02,2500.27 522.05,2499.7 518.08,2499.13 514.11,2498.54 510.14,2497.95 506.17,2497.35 502.21,2496.74 498.24,2496.13 494.27,2495.51 490.31,2494.89 486.35,2494.26 482.39,2493.62 478.42,2492.97 474.46,2492.32 470.5,2491.66 466.55,2491 462.59,2490.33 458.63,2489.65 454.68,2488.96 450.72,2488.27 446.77,2487.58 442.82,2486.87 438.87,2486.16 434.91,2485.45 430.97,2484.73 427.02,2484 423.07,2483.26 419.12,2482.52 415.18,2481.77 411.24,2481.02 407.29,2480.26 403.35,2479.5 399.41,2478.73 395.47,2477.95 391.53,2477.17 387.6,2476.38 383.66,2475.58 379.73,2474.78 375.79,2473.98 371.86,2473.16 367.93,2472.35 364,2471.52 360.07,2470.69 356.15,2469.86 352.22,2469.02 348.3,2468.17 344.37,2467.32 340.45,2466.46 336.53,2465.6 332.61,2464.73 328.7,2463.85 324.78,2462.97 320.87,2462.09 316.95,2461.2 313.04,2460.3 309.13,2459.4 305.22,2458.49 301.31,2457.58 297.41,2456.66 293.5,2455.74 289.6,2454.81 285.7,2453.88 281.8,2452.94 277.9,2452 274,2451.05 270.11,2450.1 266.21,2449.14 262.32,2448.17 258.43,2447.21 254.54,2446.23 250.65,2445.25 246.77,2444.27 242.88,2443.28 239,2442.29"/>
<path d="M3601.41,1107 L3597.47,1107.92 3593.54,1108.83 3589.61,1109.74 3585.68,1110.66 3581.75,1111.58 3577.83,1112.5 3573.9,1113.42 3569.97,1114.34 3566.05,1115.26 3562.13,1116.18 3558.21,1117.11 3554.29,1118.04 3550.37,1118.97 3546.45,1119.9 3542.53,1120.83 3538.62,1121.76 3534.7,1122.7 3530.79,1123.64 3526.88,1124.58 3522.97,1125.52 3519.06,1126.47 3515.15,1127.42 3511.25,1128.37 3507.34,1129.32 3503.44,1130.27 3499.54,1131.23 3495.64,1132.19 3491.74,1133.15 3487.84,1134.12 3483.94,1135.09 3480.05,1136.06 3476.15,1137.03 3472.26,1138.01 3468.37,1138.99 3464.48,1139.97 3460.6,1140.96 3456.71,1141.95 3452.83,1142.95 3448.94,1143.94 3445.06,1144.94 3441.18,1145.95 3437.31,1146.95 3433.43,1147.97 3429.56,1148.98 3425.68,1150 3421.81,1151.02 3417.94,1152.05 3414.08,1153.08 3410.21,1154.12 3406.35,1155.16 3402.48,1156.2 3398.62,1157.25 3394.76,1158.3 3390.91,1159.36 3387.05,1160.42 3383.2,1161.48 3379.35,1162.56 3375.5,1163.63 3371.65,1164.71 3367.81,1165.8 3363.96,1166.89 3360.12,1167.98 3356.28,1169.08 3352.44,1170.19 3348.61,1171.3 3344.77,1172.41 3340.94,1173.53 3337.11,1174.66 3333.28,1175.79 3329.46,1176.93 3325.64,1178.07 3321.81,1179.22 3317.99,1180.37 3314.18,1181.53 3310.36,1182.7 3306.55,1183.87 3302.74,1185.05 3298.93,1186.23 3295.12,1187.42 3291.32,1188.62 3287.52,1189.82 3283.72,1191.03 3279.92,1192.24 3276.12,1193.46 3272.33,1194.69 3268.54,1195.93 3264.75,1197.17 3260.97,1198.42 3257.18,1199.67 3253.4,1200.93 3249.62,1202.2 3245.84,1203.48 3242.07,1204.76 3238.3,1206.05 3234.53,1207.35 3230.76,1208.65 3227,1209.96 3223.24,1211.28 3219.48,1212.61 3215.72,1213.94 3211.96,1215.28 3208.21,1216.63 3204.46,1217.99 3200.72,1219.35 3196.97,1220.73 3193.23,1222.11 3189.49,1223.5 3185.75,1224.89 3182.02,1226.3 3178.29,1227.71 3174.56,1229.13 3170.83,1230.56 3167.11,1232 3163.39,1233.44 3159.67,1234.9 3155.96,1236.36 3152.25,1237.84 3148.54,1239.32 3144.83,1240.81 3141.12,1242.3 3137.42,1243.81 3133.73,1245.33 3130.03,1246.85 3126.34,1248.39 3122.65,1249.93 3118.96,1251.49 3115.28,1253.05 3111.6,1254.62 3107.92,1256.2 3104.24,1257.79 3100.57,1259.39 3096.9,1261 3093.24,1262.62 3089.57,1264.25 3085.91,1265.89 3082.25,1267.54 3078.6,1269.2 3074.95,1270.87 3071.3,1272.55 3067.66,1274.24 3064.02,1275.94 3060.38,1277.65 3056.74,1279.37 3053.11,1281.1 3049.49,1282.84 3045.86,1284.59 3042.24,1286.35 3038.63,1288.12 3035.02,1289.9 3031.41,1291.69 3027.81,1293.49 3024.21,1295.3 3020.61,1297.12 3017.02,1298.95 3013.44,1300.79 3009.86,1302.64 3006.28,1304.51 3002.71,1306.38 2999.14,1308.26 2995.58,1310.15 2992.02,1312.05 2988.47,1313.97 2984.92,1315.89 2981.38,1317.82 2977.84,1319.77 2974.31,1321.72 2970.79,1323.68 2967.27,1325.66 2963.75,1327.64 2960.24,1329.64 2956.74,1331.64 2953.24,1333.66 2949.75,1335.68 2946.26,1337.72 2942.78,1339.77 2939.31,1341.82 2935.84,1343.89 2932.38,1345.97 2928.93,1348.06 2925.48,1350.15 2922.04,1352.26 2918.6,1354.38 2915.17,1356.51 2911.75,1358.65 2908.34,1360.8 2904.93,1362.96 2901.53,1365.14 2898.14,1367.32 2894.75,1369.51 2891.37,1371.71 2888,1373.93 2884.63,1376.15 2881.28,1378.39 2877.93,1380.63 2874.58,1382.89 2871.25,1385.15 2867.92,1387.43 2864.6,1389.72 2861.29,1392.01 2857.99,1394.32 2854.7,1396.64 2851.41,1398.97 2848.13,1401.31 2844.86,1403.66 2841.6,1406.02 2838.35,1408.4 2835.1,1410.78 2831.87,1413.17 2828.64,1415.58 2825.42,1417.99 2822.22,1420.42 2819.02,1422.85 2815.82,1425.3 2812.64,1427.76 2809.47,1430.23 2806.31,1432.71 2803.15,1435.2 2800.01,1437.7 2796.87,1440.21 2793.75,1442.73 2790.63,1445.26 2787.53,1447.81 2784.43,1450.36 2781.34,1452.93 2778.27,1455.5 2775.2,1458.09 2772.15,1460.69 2769.1,1463.3 2766.07,1465.92 2763.04,1468.55 2760.03,1471.19 2757.02,1473.84 2754.03,1476.5 2751.05,1479.18 2748.08,1481.86 2745.12,1484.56 2742.17,1487.27 2739.23,1489.98 2736.3,1492.71 2733.38,1495.45 2730.48,1498.2 2727.58,1500.96 2724.7,1503.74 2721.83,1506.52 2718.97,1509.32 2716.12,1512.12 2713.29,1514.94 2710.47,1517.76 2707.65,1520.6 2704.85,1523.45 2702.07,1526.31 2699.29,1529.19 2696.53,1532.07 2693.77,1534.96 2691.04,1537.87 2688.31,1540.78 2685.6,1543.71 2682.89,1546.65 2680.21,1549.6 2677.53,1552.56 2674.87,1555.53 2672.22,1558.52 2669.58,1561.51 2666.96,1564.51 2664.35,1567.53 2661.75,1570.56 2659.16,1573.6 2656.59,1576.65 2654.04,1579.71 2651.49,1582.78 2648.96,1585.87 2646.45,1588.96 2643.94,1592.07 2641.46,1595.19 2638.98,1598.31 2636.52,1601.46 2634.08,1604.61 2631.64,1607.77 2629.23,1610.94 2626.82,1614.13 2624.43,1617.33 2622.06,1620.53 2619.7,1623.75 2617.35,1626.99 2615.02,1630.23 2612.71,1633.48 2610.41,1636.75 2608.12,1640.02 2605.85,1643.31 2603.6,1646.61 2601.35,1649.92 2599.13,1653.24 2596.92,1656.58 2594.73,1659.92 2592.55,1663.28 2590.39,1666.64 2588.24,1670.02 2586.11,1673.41 2584,1676.81 2581.9,1680.22 2579.83,1683.64 2577.76,1687.07 2575.72,1690.52 2573.69,1693.97 2571.68,1697.43 2569.69,1700.91 2567.72,1704.39 2565.76,1707.88 2563.83,1711.39 2561.91,1714.9 2560.01,1718.42 2558.13,1721.96 2556.27,1725.5 2554.42,1729.05 2552.6,1732.61 2550.8,1736.18 2549.01,1739.76 2547.25,1743.35 2545.51,1746.95 2543.78,1750.56 2542.08,1754.17 2540.4,1757.8 2538.74,1761.43 2537.1,1765.07 2535.48,1768.73 2533.88,1772.39 2532.31,1776.05 2530.75,1779.73 2529.22,1783.41 2527.71,1787.11 2526.23,1790.81 2524.76,1794.52 2523.32,1798.23 2521.9,1801.96 2520.5,1805.69 2519.13,1809.43 2517.78,1813.18 2516.46,1816.93 2515.15,1820.69 2513.87,1824.46 2512.62,1828.24 2511.39,1832.02 2510.19,1835.82 2509,1839.61 2507.85,1843.42 2506.72,1847.23 2505.61,1851.05 2504.53,1854.87 2503.48,1858.7 2502.45,1862.54 2501.45,1866.39 2500.47,1870.24 2499.52,1874.09 2498.59,1877.96 2497.7,1881.82 2496.83,1885.7 2495.98,1889.58 2495.17,1893.46 2494.38,1897.36 2493.61,1901.25 2492.88,1905.16 2492.17,1909.06 2491.5,1912.98 2490.85,1916.9 2490.23,1920.82 2489.63,1924.75 2489.07,1928.68 2488.53,1932.62 2488.03,1936.56 2487.55,1940.51 2487.11,1944.46 2486.69,1948.42 2486.3,1952.38 2485.94,1956.35 2485.62,1960.32 2485.32,1964.29 2485.05,1968.27 2484.82,1972.26 2484.61,1976.24 2484.44,1980.23 2484.3,1984.23 2484.19,1988.22 2484.11,1992.23 2484.06,1996.23 2484.05,2000.24 2484.07,2004.25 2484.11,2008.26 2484.2,2012.28 2484.31,2016.3 2484.45,2020.33 2484.62,2024.35 2484.81,2028.38 2485.04,2032.42 2485.29,2036.45 2485.56,2040.49 2485.86,2044.53 2486.18,2048.57 2486.53,2052.61 2486.9,2056.66 2487.28,2060.7 2487.69,2064.75 2488.12,2068.81 2488.56,2072.86 2489.02,2076.91 2489.5,2080.97 2490,2085.03 2490.51,2089.08 2491.03,2093.14 2491.56,2097.2 2492.11,2101.27 2492.67,2105.33 2493.24,2109.39 2493.82,2113.45 2494.4,2117.52 2495,2121.58 2495.6,2125.65 2496.2,2129.71 2496.81,2133.78 2497.43,2137.85 2498.05,2141.91 2498.67,2145.98 2499.29,2150.04 2499.92,2154.11 2500.54,2158.17 2501.16,2162.23 2501.78,2166.3 2502.4,2170.36 2503.01,2174.42 2503.62,2178.48 2504.23,2182.54 2504.82,2186.6 2505.41,2190.65 2506,2194.71 2506.57,2198.76 2507.13,2202.82 2507.68,2206.87 2508.22,2210.92 2508.75,2214.96 2509.27,2219.01 2509.77,2223.05 2510.25,2227.09 2510.72,2231.13 2511.17,2235.17 2511.61,2239.2 2512.02,2243.24 2512.42,2247.27 2512.79,2251.29 2513.15,2255.31 2513.48,2259.34 2513.79,2263.35 2514.08,2267.37 2514.34,2271.38 2514.57,2275.39 2514.78,2279.39 2514.96,2283.39 2515.11,2287.39 2515.24,2291.38 2515.33,2295.37 2515.39,2299.36 2515.43,2303.34 2515.42,2307.32 2515.39,2311.29 2515.32,2315.26 2515.21,2319.22 2515.07,2323.18 2514.89,2327.14 2514.68,2331.09 2514.42,2335.03 2514.13,2338.97 2513.79,2342.91 2513.42,2346.84 2513,2350.76 2512.54,2354.68 2512.04,2358.59 2511.5,2362.49 2510.91,2366.38 2510.28,2370.26 2509.61,2374.13 2508.89,2377.99 2508.13,2381.84 2507.32,2385.68 2506.47,2389.5 2505.58,2393.31 2504.63,2397.11 2503.64,2400.89 2502.61,2404.66 2501.52,2408.4 2500.39,2412.14 2499.22,2415.85 2497.99,2419.55 2496.72,2423.22 2495.39,2426.88 2494.02,2430.52 2492.6,2434.13 2491.12,2437.73 2489.6,2441.3 2488.03,2444.85 2486.4,2448.37 2484.72,2451.87 2483,2455.35 2481.21,2458.8 2479.38,2462.22 2477.5,2465.62 2475.57,2469 2473.58,2472.34 2471.55,2475.66 2469.47,2478.96 2467.35,2482.23 2465.17,2485.47 2462.95,2488.69 2460.69,2491.88 2458.38,2495.04 2456.02,2498.18 2453.62,2501.28 2451.18,2504.37 2448.7,2507.42 2446.17,2510.45 2443.6,2513.45 2441,2516.42 2438.35,2519.37 2435.66,2522.28 2432.93,2525.17 2430.17,2528.03 2427.37,2530.87 2424.53,2533.67 2421.66,2536.45 2418.75,2539.2 2415.8,2541.92 2412.82,2544.61 2409.81,2547.27 2406.76,2549.9 2403.69,2552.51 2400.58,2555.08 2397.44,2557.63 2394.26,2560.15 2391.06,2562.63 2387.83,2565.09 2384.57,2567.52 2381.29,2569.92 2377.97,2572.29 2374.63,2574.63 2371.27,2576.95 2367.88,2579.23 2364.47,2581.5 2361.03,2583.73 2357.58,2585.95 2354.1,2588.13 2350.61,2590.3 2347.09,2592.44 2343.56,2594.56 2340.01,2596.66 2336.44,2598.74 2332.86,2600.79 2329.26,2602.83 2325.65,2604.85 2322.03,2606.85 2318.4,2608.83 2314.75,2610.79 2311.1,2612.74 2307.43,2614.67 2303.76,2616.59 2300.08,2618.49 2296.4,2620.38 2292.7,2622.26 2289.01,2624.12 2285.31,2625.97 2281.6,2627.81 2277.9,2629.63 2274.19,2631.45 2270.49,2633.26 2266.78,2635.06 2263.08,2636.85 2259.38,2638.63 2255.68,2640.41 2251.98,2642.18 2248.29,2643.94 2244.61,2645.7 2240.93,2647.45 2237.26,2649.2 2233.6,2650.95 2229.95,2652.69 2226.31,2654.43 2222.68,2656.17 2219.07,2657.91 2215.46,2659.65 2211.87,2661.39 2208.3,2663.14 2204.74,2664.88 2201.2,2666.62 2197.67,2668.37 2194.17,2670.12 2190.68,2671.88 2187.21,2673.64 2183.76,2675.41 2180.34,2677.18 2176.94,2678.96 2173.56,2680.75 2170.21,2682.55 2166.88,2684.35 2163.58,2686.16 2160.3,2687.99"/>
<path d="M3601.29,1685.01 L3597.39,1684.95 3593.49,1684.9 3589.57,1684.88 3585.65,1684.89 3581.73,1684.91 3577.8,1684.96 3573.87,1685.03 3569.93,1685.12 3565.98,1685.24 3562.04,1685.38 3558.08,1685.54 3554.13,1685.72 3550.17,1685.92 3546.2,1686.15 3542.24,1686.4 3538.27,1686.68 3534.3,1686.97 3530.32,1687.29 3526.35,1687.64 3522.37,1688 3518.39,1688.39 3514.41,1688.8 3510.42,1689.23 3506.44,1689.69 3502.45,1690.17 3498.47,1690.67 3494.48,1691.2 3490.5,1691.74 3486.51,1692.32 3482.53,1692.91 3478.55,1693.53 3474.56,1694.17 3470.58,1694.84 3466.6,1695.52 3462.62,1696.23 3458.65,1696.97 3454.67,1697.73 3450.7,1698.51 3446.73,1699.31 3442.77,1700.14 3438.8,1700.99 3434.84,1701.87 3430.89,1702.77 3426.94,1703.69 3422.99,1704.64 3419.04,1705.61 3415.1,1706.6 3411.17,1707.62 3407.24,1708.66 3403.32,1709.72 3399.4,1710.81 3395.49,1711.92 3391.58,1713.06 3387.68,1714.22 3383.79,1715.4 3379.9,1716.61 3376.02,1717.84 3372.15,1719.1 3368.29,1720.38 3364.43,1721.68 3360.58,1723.01 3356.74,1724.36 3352.91,1725.74 3349.08,1727.14 3345.27,1728.56 3341.46,1730.01 3337.67,1731.48 3333.88,1732.98 3330.11,1734.5 3326.34,1736.05 3322.59,1737.62 3318.84,1739.21 3315.11,1740.83 3311.38,1742.48 3307.67,1744.15 3303.97,1745.84 3300.29,1747.56 3296.61,1749.3 3292.95,1751.07 3289.3,1752.86 3285.66,1754.68 3282.04,1756.52 3278.42,1758.38 3274.83,1760.27 3271.24,1762.19 3267.67,1764.13 3264.12,1766.1 3260.58,1768.09 3257.05,1770.1 3253.54,1772.14 3250.04,1774.21 3246.56,1776.3 3243.1,1778.41 3239.65,1780.55 3236.22,1782.72 3232.8,1784.91 3229.4,1787.13 3226.02,1789.37 3222.66,1791.63 3219.31,1793.93 3215.98,1796.24 3212.67,1798.59 3209.38,1800.95 3206.1,1803.35 3202.85,1805.77 3199.61,1808.21 3196.39,1810.68 3193.19,1813.18 3190.01,1815.7 3186.85,1818.24 3183.72,1820.81 3180.6,1823.41 3177.5,1826.03 3174.42,1828.67 3171.37,1831.34 3168.33,1834.03 3165.32,1836.74 3162.32,1839.48 3159.35,1842.24 3156.41,1845.02 3153.48,1847.83 3150.58,1850.66 3147.7,1853.51 3144.84,1856.38 3142.01,1859.28 3139.2,1862.19 3136.41,1865.13 3133.65,1868.09 3130.91,1871.06 3128.2,1874.06 3125.51,1877.08 3122.85,1880.12 3120.21,1883.18 3117.59,1886.26 3115.01,1889.36 3112.45,1892.48 3109.91,1895.62 3107.4,1898.78 3104.92,1901.95 3102.46,1905.15 3100.03,1908.36 3097.63,1911.59 3095.26,1914.84 3092.91,1918.1 3090.59,1921.38 3088.3,1924.68 3086.04,1928 3083.8,1931.33 3081.6,1934.68 3079.42,1938.05 3077.28,1941.43 3075.16,1944.83 3073.07,1948.25 3071.02,1951.68 3068.99,1955.12 3066.99,1958.58 3065.03,1962.05 3063.09,1965.54 3061.19,1969.05 3059.32,1972.56 3057.48,1976.09 3055.67,1979.64 3053.89,1983.2 3052.15,1986.77 3050.44,1990.35 3048.76,1993.95 3047.11,1997.56 3045.5,2001.18 3043.92,2004.82 3042.37,2008.47 3040.86,2012.12 3039.38,2015.79 3037.94,2019.47 3036.53,2023.17 3035.16,2026.87 3033.82,2030.58 3032.51,2034.31 3031.25,2038.04 3030.01,2041.78 3028.82,2045.54 3027.66,2049.3 3026.53,2053.08 3025.45,2056.86 3024.4,2060.65 3023.38,2064.45 3022.41,2068.26 3021.47,2072.07 3020.57,2075.9 3019.71,2079.73 3018.88,2083.57 3018.1,2087.41 3017.35,2091.27 3016.64,2095.13 3015.97,2099 3015.34,2102.87 3014.75,2106.75 3014.2,2110.64 3013.68,2114.53 3013.2,2118.43 3012.76,2122.33 3012.35,2126.24 3011.98,2130.15 3011.65,2134.07 3011.36,2138 3011.1,2141.92 3010.88,2145.85 3010.69,2149.79 3010.54,2153.73 3010.42,2157.67 3010.34,2161.62 3010.3,2165.56 3010.29,2169.51 3010.31,2173.47 3010.37,2177.42 3010.46,2181.38 3010.58,2185.34 3010.74,2189.3 3010.94,2193.27 3011.16,2197.23 3011.42,2201.2 3011.71,2205.16 3012.04,2209.13 3012.39,2213.1 3012.78,2217.06 3013.2,2221.03 3013.65,2225 3014.14,2228.96 3014.65,2232.93 3015.2,2236.89 3015.77,2240.86 3016.38,2244.82 3017.02,2248.78 3017.69,2252.74 3018.38,2256.69 3019.11,2260.65 3019.87,2264.6 3020.65,2268.55 3021.47,2272.5 3022.31,2276.44 3023.19,2280.38 3024.09,2284.31 3025.02,2288.25 3025.97,2292.17 3026.96,2296.1 3027.97,2300.02 3029.01,2303.93 3030.08,2307.84 3031.17,2311.75 3032.29,2315.64 3033.44,2319.54 3034.61,2323.43 3035.81,2327.31 3037.03,2331.18 3038.28,2335.05 3039.56,2338.92 3040.86,2342.77 3042.19,2346.62 3043.54,2350.46 3044.91,2354.29 3046.31,2358.12 3047.73,2361.94 3049.18,2365.75 3050.65,2369.55 3052.15,2373.34 3053.66,2377.12 3055.2,2380.9 3056.77,2384.66 3058.35,2388.42 3059.96,2392.17 3061.59,2395.9 3063.24,2399.63 3064.91,2403.35 3066.61,2407.05 3068.32,2410.75 3070.06,2414.44 3071.81,2418.12 3073.58,2421.79 3075.37,2425.45 3077.19,2429.1 3079.01,2432.74 3080.86,2436.38 3082.73,2440 3084.61,2443.62 3086.5,2447.22 3088.42,2450.82 3090.35,2454.42 3092.29,2458 3094.25,2461.57 3096.23,2465.14 3098.22,2468.7 3100.22,2472.25 3102.24,2475.79 3104.27,2479.33 3106.31,2482.86 3108.36,2486.38 3110.43,2489.89 3112.51,2493.4 3114.6,2496.9 3116.7,2500.39 3118.81,2503.87 3120.93,2507.35 3123.06,2510.82 3125.2,2514.29 3127.35,2517.75 3129.5,2521.2 3131.67,2524.64 3133.84,2528.08 3136.02,2531.51 3138.21,2534.94 3140.4,2538.36 3142.6,2541.78 3144.8,2545.18 3147.01,2548.59 3149.23,2551.99 3151.45,2555.38 3153.67,2558.76 3155.9,2562.15 3158.13,2565.52 3160.36,2568.89 3162.6,2572.26 3164.84,2575.62 3167.08,2578.98 3169.32,2582.33 3171.57,2585.68 3173.81,2589.02 3176.05,2592.36 3178.3,2595.69 3180.54,2599.02 3182.78,2602.35 3185.03,2605.67 3187.27,2608.98 3189.5,2612.3 3191.74,2615.61 3193.97,2618.91 3196.2,2622.22 3198.43,2625.52 3200.65,2628.81 3202.86,2632.1 3205.08,2635.39 3207.28,2638.68 3209.49,2641.96 3211.68,2645.24 3213.87,2648.52 3216.06,2651.8 3218.23,2655.07 3220.4,2658.34 3222.56,2661.61 3224.71,2664.87 3226.86,2668.14 3228.99,2671.4 3231.11,2674.66 3233.23,2677.91 3235.34,2681.17 3237.43,2684.42 3239.51,2687.67"/>
</g>
<circle cx="1311" cy="1517.7" r="11" fill="#fff" stroke="#000" stroke-width="2.4"/>
<path d="M239.9,1291 H3601" stroke="#000" stroke-width="12" stroke-linecap="round"/>
<path d="M238.5,988 V2688" stroke="#d2202e" stroke-width="2.8" stroke-linecap="round"/>
<g transform="translate(462.7,1104.7) matrix(1,0,-0.17,1,0,0) scale(44.5)" fill="none" stroke="#000" stroke-width="0.07" stroke-linecap="round" stroke-linejoin="round"><path d="M-0.295,-0.435 H0.325 M0.02,-0.9 V0" transform="translate(0,0)"/><path d="M0.10,0 V-1 L-0.23,-0.33 H0.23" transform="translate(0.81,0)"/><path d="M-0.19,-1 H0.14 L-0.06,-0.62 C0.1,-0.62 0.18,-0.5 0.18,-0.32 C0.18,-0.12 0.08,0 -0.06,0 C-0.16,0 -0.23,-0.06 -0.26,-0.17" transform="translate(1.51,0)"/><path d="M0.0,-0.06 C0.007,0.04 -0.008,0.12 -0.045,0.19" transform="translate(1.98,0)"/><circle cx="0.0" cy="-0.05" r="0.05" transform="translate(1.98,0)" stroke="none" fill="#000"/><path d="M-0.230,-0.5 C-0.230,-0.800 -0.138,-1 0,-1 C0.138,-1 0.230,-0.800 0.230,-0.5 C0.230,-0.200 0.138,0 0,0 C-0.138,0 -0.230,-0.200 -0.230,-0.5 Z" transform="translate(2.51,0)"/><path d="M-0.230,-0.5 C-0.230,-0.800 -0.138,-1 0,-1 C0.138,-1 0.230,-0.800 0.230,-0.5 C0.230,-0.200 0.138,0 0,0 C-0.138,0 -0.230,-0.200 -0.230,-0.5 Z" transform="translate(3.21,0)"/></g>
<g transform="translate(266.4,1540.8) matrix(1,0,-0.17,1,0,0) scale(44.5)" fill="none" stroke="#000" stroke-width="0.07" stroke-linecap="round" stroke-linejoin="round"><path d="M-0.295,-0.435 H0.325 M0.02,-0.9 V0" transform="translate(0,0)"/><path d="M0.10,0 V-1 L-0.23,-0.33 H0.23" transform="translate(0.81,0)"/><path d="M0.19,-1 H-0.16 L-0.19,-0.58 C-0.12,-0.64 -0.05,-0.66 0.01,-0.66 C0.15,-0.66 0.22,-0.52 0.22,-0.33 C0.22,-0.12 0.13,0 -0.01,0 C-0.11,0 -0.19,-0.06 -0.23,-0.19" transform="translate(1.51,0)"/><path d="M0.0,-0.06 C0.007,0.04 -0.008,0.12 -0.045,0.19" transform="translate(1.98,0)"/><circle cx="0.0" cy="-0.05" r="0.05" transform="translate(1.98,0)" stroke="none" fill="#000"/><path d="M-0.230,-0.5 C-0.230,-0.800 -0.138,-1 0,-1 C0.138,-1 0.230,-0.800 0.230,-0.5 C0.230,-0.200 0.138,0 0,0 C-0.138,0 -0.230,-0.200 -0.230,-0.5 Z" transform="translate(2.51,0)"/><path d="M-0.230,-0.5 C-0.230,-0.800 -0.138,-1 0,-1 C0.138,-1 0.230,-0.800 0.230,-0.5 C0.230,-0.200 0.138,0 0,0 C-0.138,0 -0.230,-0.200 -0.230,-0.5 Z" transform="translate(3.21,0)"/></g>
<g transform="translate(1669.7,1495.7) matrix(1,0,-0.17,1,0,0) scale(44.5)" fill="none" stroke="#000" stroke-width="0.07" stroke-linecap="round" stroke-linejoin="round"><path d="M-0.295,-0.435 H0.325 M0.02,-0.9 V0" transform="translate(0,0)"/><path d="M0.10,0 V-1 L-0.23,-0.33 H0.23" transform="translate(0.81,0)"/><path d="M0.10,0 V-1 L-0.23,-0.33 H0.23" transform="translate(1.51,0)"/><path d="M0.0,-0.06 C0.007,0.04 -0.008,0.12 -0.045,0.19" transform="translate(1.98,0)"/><circle cx="0.0" cy="-0.05" r="0.05" transform="translate(1.98,0)" stroke="none" fill="#000"/><path d="M-0.230,-0.5 C-0.230,-0.800 -0.138,-1 0,-1 C0.138,-1 0.230,-0.800 0.230,-0.5 C0.230,-0.200 0.138,0 0,0 C-0.138,0 -0.230,-0.200 -0.230,-0.5 Z" transform="translate(2.51,0)"/><path d="M-0.230,-0.5 C-0.230,-0.800 -0.138,-1 0,-1 C0.138,-1 0.230,-0.800 0.230,-0.5 C0.230,-0.200 0.138,0 0,0 C-0.138,0 -0.230,-0.200 -0.230,-0.5 Z" transform="translate(3.21,0)"/></g>
<g transform="translate(1669.7,1722.7) matrix(1,0,-0.17,1,0,0) scale(44.5)" fill="none" stroke="#000" stroke-width="0.07" stroke-linecap="round" stroke-linejoin="round"><path d="M-0.295,-0.435 H0.325 M0.02,-0.9 V0" transform="translate(0,0)"/><path d="M0.10,0 V-1 L-0.23,-0.33 H0.23" transform="translate(0.81,0)"/><path d="M0.19,-1 H-0.16 L-0.19,-0.58 C-0.12,-0.64 -0.05,-0.66 0.01,-0.66 C0.15,-0.66 0.22,-0.52 0.22,-0.33 C0.22,-0.12 0.13,0 -0.01,0 C-0.11,0 -0.19,-0.06 -0.23,-0.19" transform="translate(1.51,0)"/><path d="M0.0,-0.06 C0.007,0.04 -0.008,0.12 -0.045,0.19" transform="translate(1.98,0)"/><circle cx="0.0" cy="-0.05" r="0.05" transform="translate(1.98,0)" stroke="none" fill="#000"/><path d="M-0.230,-0.5 C-0.230,-0.800 -0.138,-1 0,-1 C0.138,-1 0.230,-0.800 0.230,-0.5 C0.230,-0.200 0.138,0 0,0 C-0.138,0 -0.230,-0.200 -0.230,-0.5 Z" transform="translate(2.51,0)"/><path d="M-0.230,-0.5 C-0.230,-0.800 -0.138,-1 0,-1 C0.138,-1 0.230,-0.800 0.230,-0.5 C0.230,-0.200 0.138,0 0,0 C-0.138,0 -0.230,-0.200 -0.230,-0.5 Z" transform="translate(3.21,0)"/></g>
<g transform="translate(266.8,1983.6) matrix(1,0,-0.17,1,0,0) scale(44.5)" fill="none" stroke="#000" stroke-width="0.07" stroke-linecap="round" stroke-linejoin="round"><path d="M-0.295,-0.435 H0.325 M0.02,-0.9 V0" transform="translate(0,0)"/><path d="M0.10,0 V-1 L-0.23,-0.33 H0.23" transform="translate(0.81,0)"/><path d="M0.10,0 V-1 L-0.23,-0.33 H0.23" transform="translate(1.51,0)"/><path d="M0.0,-0.06 C0.007,0.04 -0.008,0.12 -0.045,0.19" transform="translate(1.98,0)"/><circle cx="0.0" cy="-0.05" r="0.05" transform="translate(1.98,0)" stroke="none" fill="#000"/><path d="M-0.230,-0.5 C-0.230,-0.800 -0.138,-1 0,-1 C0.138,-1 0.230,-0.800 0.230,-0.5 C0.230,-0.200 0.138,0 0,0 C-0.138,0 -0.230,-0.200 -0.230,-0.5 Z" transform="translate(2.51,0)"/><path d="M-0.230,-0.5 C-0.230,-0.800 -0.138,-1 0,-1 C0.138,-1 0.230,-0.800 0.230,-0.5 C0.230,-0.200 0.138,0 0,0 C-0.138,0 -0.230,-0.200 -0.230,-0.5 Z" transform="translate(3.21,0)"/></g>
<g transform="translate(266.9,2425.2) matrix(1,0,-0.17,1,0,0) scale(44.5)" fill="none" stroke="#000" stroke-width="0.07" stroke-linecap="round" stroke-linejoin="round"><path d="M-0.295,-0.435 H0.325 M0.02,-0.9 V0" transform="translate(0,0)"/><path d="M0.10,0 V-1 L-0.23,-0.33 H0.23" transform="translate(0.81,0)"/><path d="M-0.19,-1 H0.14 L-0.06,-0.62 C0.1,-0.62 0.18,-0.5 0.18,-0.32 C0.18,-0.12 0.08,0 -0.06,0 C-0.16,0 -0.23,-0.06 -0.26,-0.17" transform="translate(1.51,0)"/><path d="M0.0,-0.06 C0.007,0.04 -0.008,0.12 -0.045,0.19" transform="translate(1.98,0)"/><circle cx="0.0" cy="-0.05" r="0.05" transform="translate(1.98,0)" stroke="none" fill="#000"/><path d="M-0.230,-0.5 C-0.230,-0.800 -0.138,-1 0,-1 C0.138,-1 0.230,-0.800 0.230,-0.5 C0.230,-0.200 0.138,0 0,0 C-0.138,0 -0.230,-0.200 -0.230,-0.5 Z" transform="translate(2.51,0)"/><path d="M-0.230,-0.5 C-0.230,-0.800 -0.138,-1 0,-1 C0.138,-1 0.230,-0.800 0.230,-0.5 C0.230,-0.200 0.138,0 0,0 C-0.138,0 -0.230,-0.200 -0.230,-0.5 Z" transform="translate(3.21,0)"/></g>
<g transform="translate(2005.9,2666.3) matrix(1,0,-0.17,1,0,0) scale(44.5)" fill="none" stroke="#000" stroke-width="0.07" stroke-linecap="round" stroke-linejoin="round"><path d="M-0.295,-0.435 H0.325 M0.02,-0.9 V0" transform="translate(0,0)"/><path d="M0.10,0 V-1 L-0.23,-0.33 H0.23" transform="translate(0.81,0)"/><path d="M-0.21,-0.8 C-0.19,-0.93 -0.09,-1 0.01,-1 C0.13,-1 0.22,-0.92 0.22,-0.78 C0.22,-0.66 0.15,-0.56 0.06,-0.47 L-0.24,0 H0.2" transform="translate(1.51,0)"/><path d="M0.0,-0.06 C0.007,0.04 -0.008,0.12 -0.045,0.19" transform="translate(1.98,0)"/><circle cx="0.0" cy="-0.05" r="0.05" transform="translate(1.98,0)" stroke="none" fill="#000"/><path d="M-0.230,-0.5 C-0.230,-0.800 -0.138,-1 0,-1 C0.138,-1 0.230,-0.800 0.230,-0.5 C0.230,-0.200 0.138,0 0,0 C-0.138,0 -0.230,-0.200 -0.230,-0.5 Z" transform="translate(2.51,0)"/><path d="M-0.230,-0.5 C-0.230,-0.800 -0.138,-1 0,-1 C0.138,-1 0.230,-0.800 0.230,-0.5 C0.230,-0.200 0.138,0 0,0 C-0.138,0 -0.230,-0.200 -0.230,-0.5 Z" transform="translate(3.21,0)"/></g>
<g transform="translate(3425.4,1663.8) matrix(1,0,-0.17,1,0,0) scale(44.5)" fill="none" stroke="#000" stroke-width="0.07" stroke-linecap="round" stroke-linejoin="round"><path d="M-0.295,-0.435 H0.325 M0.02,-0.9 V0" transform="translate(0,0)"/><path d="M0.10,0 V-1 L-0.23,-0.33 H0.23" transform="translate(0.81,0)"/><path d="M-0.18,-0.81 L0,-1 V0" transform="translate(1.51,0)"/><path d="M0.0,-0.06 C0.007,0.04 -0.008,0.12 -0.045,0.19" transform="translate(1.98,0)"/><circle cx="0.0" cy="-0.05" r="0.05" transform="translate(1.98,0)" stroke="none" fill="#000"/><path d="M-0.230,-0.5 C-0.230,-0.800 -0.138,-1 0,-1 C0.138,-1 0.230,-0.800 0.230,-0.5 C0.230,-0.200 0.138,0 0,0 C-0.138,0 -0.230,-0.200 -0.230,-0.5 Z" transform="translate(2.51,0)"/><path d="M-0.230,-0.5 C-0.230,-0.800 -0.138,-1 0,-1 C0.138,-1 0.230,-0.800 0.230,-0.5 C0.230,-0.200 0.138,0 0,0 C-0.138,0 -0.230,-0.200 -0.230,-0.5 Z" transform="translate(3.21,0)"/></g>
<g transform="translate(3017.9,2666.3) matrix(1,0,-0.17,1,0,0) scale(44.5)" fill="none" stroke="#000" stroke-width="0.07" stroke-linecap="round" stroke-linejoin="round"><path d="M-0.295,-0.435 H0.325 M0.02,-0.9 V0" transform="translate(0,0)"/><path d="M0.10,0 V-1 L-0.23,-0.33 H0.23" transform="translate(0.81,0)"/><path d="M-0.18,-0.81 L0,-1 V0" transform="translate(1.51,0)"/><path d="M0.0,-0.06 C0.007,0.04 -0.008,0.12 -0.045,0.19" transform="translate(1.98,0)"/><circle cx="0.0" cy="-0.05" r="0.05" transform="translate(1.98,0)" stroke="none" fill="#000"/><path d="M-0.230,-0.5 C-0.230,-0.800 -0.138,-1 0,-1 C0.138,-1 0.230,-0.800 0.230,-0.5 C0.230,-0.200 0.138,0 0,0 C-0.138,0 -0.230,-0.200 -0.230,-0.5 Z" transform="translate(2.51,0)"/><path d="M-0.230,-0.5 C-0.230,-0.800 -0.138,-1 0,-1 C0.138,-1 0.230,-0.800 0.230,-0.5 C0.230,-0.200 0.138,0 0,0 C-0.138,0 -0.230,-0.200 -0.230,-0.5 Z" transform="translate(3.21,0)"/></g>
<g transform="translate(0,1164.3) matrix(1,0,-0.15,1,0,0) scale(54)" fill="none" stroke="#e3232b" stroke-width="0.06" stroke-linecap="round" stroke-linejoin="round"><path d="M0,0 V-1 H0.26 C0.4,-1 0.46,-0.9 0.46,-0.75 C0.46,-0.6 0.4,-0.5 0.26,-0.5 H0" transform="translate(25.72,0)"/><path d="M0,-0.68 V-0.32 C0,-0.12 0.12,0 0.26,0 C0.4,0 0.52,-0.12 0.52,-0.32 V-0.68 C0.52,-0.88 0.4,-1 0.26,-1 C0.12,-1 0,-0.88 0,-0.68 Z" transform="translate(26.37,0)"/><path d="M0,0 V-1 H0.18 C0.38,-1 0.48,-0.8 0.48,-0.5 C0.48,-0.2 0.38,0 0.18,0 Z" transform="translate(27.12,0)"/><path d="M-0.2,-1 H0.22 M0,-1 V0" transform="translate(28.62,0)"/><path d="M0.44,-1 H0 V0 H0.44 M0,-0.52 H0.27" transform="translate(29,0)"/><path d="M0,0 V-1 H0.25 C0.38,-1 0.455,-0.9 0.455,-0.76 C0.455,-0.62 0.38,-0.52 0.25,-0.52 H0 M0.23,-0.52 L0.41,0" transform="translate(29.65,0)"/><path d="M0.44,-1 H0 V0 H0.44 M0,-0.52 H0.27" transform="translate(30.33,0)"/><path d="M0,0 V-1 L0.47,0 V-1" transform="translate(30.94,0)"/><path d="M0.44,-1 H0 V0 H0.44 M0,-0.52 H0.27" transform="translate(31.67,0)"/><path d="M0,0 V-1 L0.265,0 L0.53,-1 V0" transform="translate(32.29,0)"/></g>
<g transform="translate(0,1164.2) matrix(1,0,-0.15,1,0,0) scale(54)" fill="none" stroke="#e3232b" stroke-width="0.06" stroke-linecap="round" stroke-linejoin="round"><path d="M0,0 V-1 L0.47,0 V-1" transform="translate(49.32,0)"/><path d="M0,0 L0.27,-1 L0.5,0 M0.095,-0.35 H0.42" transform="translate(49.94,0)"/><path d="M0,0 V-1 H0.18 C0.38,-1 0.48,-0.8 0.48,-0.5 C0.48,-0.2 0.38,0 0.18,0 Z" transform="translate(50.63,0)"/><path d="M-0.2,-1 H0.22 M0,-1 V0" transform="translate(52.13,0)"/><path d="M0.44,-1 H0 V0 H0.44 M0,-0.52 H0.27" transform="translate(52.53,0)"/><path d="M0,0 V-1 H0.25 C0.38,-1 0.455,-0.9 0.455,-0.76 C0.455,-0.62 0.38,-0.52 0.25,-0.52 H0 M0.23,-0.52 L0.41,0" transform="translate(53.18,0)"/><path d="M0.44,-1 H0 V0 H0.44 M0,-0.52 H0.27" transform="translate(53.86,0)"/><path d="M0,0 V-1 L0.47,0 V-1" transform="translate(54.47,0)"/><path d="M0.44,-1 H0 V0 H0.44 M0,-0.52 H0.27" transform="translate(55.19,0)"/><path d="M0,0 V-1 L0.265,0 L0.53,-1 V0" transform="translate(55.81,0)"/></g>
<g transform="translate(0,1397.3) matrix(1,0,-0.15,1,0,0) scale(53.5)" fill="none" stroke="#e3232b" stroke-width="0.06" stroke-linecap="round" stroke-linejoin="round"><path d="M0,0 V-1 L0.47,0 V-1" transform="translate(56.93,0)"/><path d="M0,0 L0.27,-1 L0.5,0 M0.095,-0.35 H0.42" transform="translate(57.56,0)"/><path d="M0.45,-0.83 C0.42,-0.95 0.32,-1 0.2,-1 C0.08,-1 0.02,-0.92 0.02,-0.78 C0.02,-0.62 0.12,-0.58 0.24,-0.52 C0.36,-0.46 0.44,-0.4 0.44,-0.26 C0.44,-0.1 0.34,0 0.2,0 C0.1,0 0.03,-0.06 0,-0.2" transform="translate(58.2,0)"/><path d="M-0.28,-1 L0,-0.52 L0.27,-1 M0,-0.52 V0" transform="translate(59.07,0)"/><path d="M0,0 V-1 H0.26 C0.4,-1 0.46,-0.9 0.46,-0.75 C0.46,-0.6 0.4,-0.5 0.26,-0.5 H0" transform="translate(59.51,0)"/></g>
</svg></body></html>
